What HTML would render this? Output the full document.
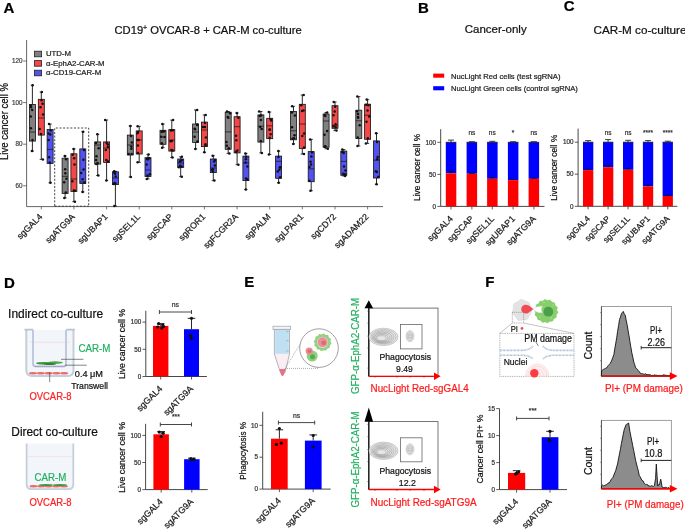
<!DOCTYPE html><html><head><meta charset="utf-8"><style>html,body{margin:0;padding:0;background:#fff;}svg{display:block;will-change:transform;}text{font-family:"Liberation Sans",sans-serif;}</style></head><body>
<svg width="685" height="530" viewBox="0 0 685 530">
<rect width="685" height="530" fill="#fff"/>
<text x="3.4" y="12.6" font-size="15" fill="#000" stroke="#000" stroke-width="0.22" text-anchor="start" font-weight="bold" >A</text>
<text x="418.0" y="12.9" font-size="15" fill="#000" stroke="#000" stroke-width="0.22" text-anchor="start" font-weight="bold" >B</text>
<text x="563.8" y="11.4" font-size="15" fill="#000" stroke="#000" stroke-width="0.22" text-anchor="start" font-weight="bold" >C</text>
<text x="4.1" y="287.5" font-size="15" fill="#000" stroke="#000" stroke-width="0.22" text-anchor="start" font-weight="bold" >D</text>
<text x="244.2" y="287.3" font-size="15" fill="#000" stroke="#000" stroke-width="0.22" text-anchor="start" font-weight="bold" >E</text>
<text x="485.2" y="287.3" font-size="15" fill="#000" stroke="#000" stroke-width="0.22" text-anchor="start" font-weight="bold" >F</text>
<text x="114.5" y="33.6" font-size="11.2" fill="#111" stroke="#111" stroke-width="0.22" text-anchor="start" >CD19<tspan dy="-4" font-size="7">+</tspan><tspan dy="4"> OVCAR-8 + CAR-M co-culture</tspan></text>
<line x1="26.6" y1="40.0" x2="26.6" y2="206.6" stroke="#555" stroke-width="0.9" />
<line x1="26.6" y1="206.6" x2="383.0" y2="206.6" stroke="#555" stroke-width="0.9" />
<line x1="23.1" y1="185.8" x2="26.6" y2="185.8" stroke="#555" stroke-width="0.8" />
<text x="22.5" y="188.0" font-size="6.3" fill="#444" stroke="#444" stroke-width="0.22" text-anchor="end" >60</text>
<line x1="23.1" y1="144.2" x2="26.6" y2="144.2" stroke="#555" stroke-width="0.8" />
<text x="22.5" y="146.4" font-size="6.3" fill="#444" stroke="#444" stroke-width="0.22" text-anchor="end" >80</text>
<line x1="23.1" y1="102.6" x2="26.6" y2="102.6" stroke="#555" stroke-width="0.8" />
<text x="22.5" y="104.8" font-size="6.3" fill="#444" stroke="#444" stroke-width="0.22" text-anchor="end" >100</text>
<line x1="23.1" y1="61.0" x2="26.6" y2="61.0" stroke="#555" stroke-width="0.8" />
<text x="22.5" y="63.2" font-size="6.3" fill="#444" stroke="#444" stroke-width="0.22" text-anchor="end" >120</text>
<text transform="translate(8.2,121.5) rotate(-90)" x="0" y="0" font-size="10" fill="#111" stroke="#111" stroke-width="0.22" text-anchor="middle" textLength="77.0" lengthAdjust="spacingAndGlyphs">Live cancer cell %</text>
<rect x="34.4" y="51.2" width="7.2" height="5.6" fill="#808080" stroke="#222" stroke-width="0.8" />
<text x="46.0" y="56.4" font-size="7.6" fill="#222" stroke="#222" stroke-width="0.22" text-anchor="start" textLength="25.0" lengthAdjust="spacingAndGlyphs" >UTD-M</text>
<rect x="34.4" y="60.6" width="7.2" height="5.6" fill="#f44848" stroke="#222" stroke-width="0.8" />
<text x="46.0" y="65.8" font-size="7.6" fill="#222" stroke="#222" stroke-width="0.22" text-anchor="start" textLength="58.5" lengthAdjust="spacingAndGlyphs" >α-EphA2-CAR-M</text>
<rect x="34.4" y="70.2" width="7.2" height="5.6" fill="#5252f2" stroke="#222" stroke-width="0.8" />
<text x="46.0" y="75.4" font-size="7.6" fill="#222" stroke="#222" stroke-width="0.22" text-anchor="start" textLength="55.2" lengthAdjust="spacingAndGlyphs" >α-CD19-CAR-M</text>
<line x1="41.3" y1="206.6" x2="41.3" y2="209.4" stroke="#555" stroke-width="0.8" />
<line x1="32.4" y1="85.3" x2="32.4" y2="104.5" stroke="#111" stroke-width="0.9" />
<line x1="32.4" y1="141.1" x2="32.4" y2="151.1" stroke="#111" stroke-width="0.9" />
<rect x="29.4" y="104.5" width="6.0" height="36.6" fill="#808080" stroke="#111" stroke-width="0.8" />
<line x1="29.4" y1="132.0" x2="35.4" y2="132.0" stroke="#111" stroke-width="0.7" />
<line x1="30.8" y1="85.3" x2="34.0" y2="85.3" stroke="#111" stroke-width="0.8" />
<line x1="30.8" y1="151.1" x2="34.0" y2="151.1" stroke="#111" stroke-width="0.8" />
<circle cx="32.6" cy="85.3" r="1.25" fill="#111"/>
<circle cx="32.0" cy="151.1" r="1.25" fill="#111"/>
<circle cx="30.9" cy="105.5" r="1.25" fill="#111"/>
<circle cx="32.5" cy="140.1" r="1.25" fill="#111"/>
<circle cx="30.8" cy="116.4" r="1.25" fill="#111"/>
<circle cx="32.2" cy="110.0" r="1.25" fill="#111"/>
<circle cx="30.9" cy="128.3" r="1.25" fill="#111"/>
<circle cx="31.0" cy="107.2" r="1.25" fill="#111"/>
<line x1="41.3" y1="92.1" x2="41.3" y2="99.3" stroke="#111" stroke-width="0.9" />
<line x1="41.3" y1="135.1" x2="41.3" y2="159.4" stroke="#111" stroke-width="0.9" />
<rect x="38.3" y="99.3" width="6.0" height="35.8" fill="#f44848" stroke="#111" stroke-width="0.8" />
<line x1="38.3" y1="118.0" x2="44.3" y2="118.0" stroke="#111" stroke-width="0.7" />
<line x1="39.7" y1="92.1" x2="42.9" y2="92.1" stroke="#111" stroke-width="0.8" />
<line x1="39.7" y1="159.4" x2="42.9" y2="159.4" stroke="#111" stroke-width="0.8" />
<circle cx="41.8" cy="92.1" r="1.25" fill="#111"/>
<circle cx="42.9" cy="159.4" r="1.25" fill="#111"/>
<circle cx="41.6" cy="100.3" r="1.25" fill="#111"/>
<circle cx="40.9" cy="134.1" r="1.25" fill="#111"/>
<circle cx="43.0" cy="114.5" r="1.25" fill="#111"/>
<circle cx="39.7" cy="128.9" r="1.25" fill="#111"/>
<circle cx="42.6" cy="103.7" r="1.25" fill="#111"/>
<circle cx="40.5" cy="107.3" r="1.25" fill="#111"/>
<line x1="50.1" y1="124.1" x2="50.1" y2="129.5" stroke="#111" stroke-width="0.9" />
<line x1="50.1" y1="163.5" x2="50.1" y2="182.8" stroke="#111" stroke-width="0.9" />
<rect x="47.1" y="129.5" width="6.0" height="34.0" fill="#5252f2" stroke="#111" stroke-width="0.8" />
<line x1="47.1" y1="149.4" x2="53.1" y2="149.4" stroke="#111" stroke-width="0.7" />
<line x1="48.5" y1="124.1" x2="51.8" y2="124.1" stroke="#111" stroke-width="0.8" />
<line x1="48.5" y1="182.8" x2="51.8" y2="182.8" stroke="#111" stroke-width="0.8" />
<circle cx="49.0" cy="124.1" r="1.25" fill="#111"/>
<circle cx="50.4" cy="182.8" r="1.25" fill="#111"/>
<circle cx="50.7" cy="130.5" r="1.25" fill="#111"/>
<circle cx="49.7" cy="162.5" r="1.25" fill="#111"/>
<circle cx="50.3" cy="134.4" r="1.25" fill="#111"/>
<circle cx="48.6" cy="133.5" r="1.25" fill="#111"/>
<circle cx="48.6" cy="140.0" r="1.25" fill="#111"/>
<circle cx="49.1" cy="157.2" r="1.25" fill="#111"/>
<text transform="translate(42.9,217.3) rotate(-45)" x="0" y="0" font-size="8.8" fill="#1a1a1a" stroke="#1a1a1a" stroke-width="0.22" text-anchor="end">sgGAL4</text>
<line x1="73.9" y1="206.6" x2="73.9" y2="209.4" stroke="#555" stroke-width="0.8" />
<line x1="65.1" y1="156.0" x2="65.1" y2="158.2" stroke="#111" stroke-width="0.9" />
<line x1="65.1" y1="193.4" x2="65.1" y2="197.9" stroke="#111" stroke-width="0.9" />
<rect x="62.1" y="158.2" width="6.0" height="35.2" fill="#808080" stroke="#111" stroke-width="0.8" />
<line x1="62.1" y1="176.3" x2="68.1" y2="176.3" stroke="#111" stroke-width="0.7" />
<line x1="63.5" y1="156.0" x2="66.7" y2="156.0" stroke="#111" stroke-width="0.8" />
<line x1="63.5" y1="197.9" x2="66.7" y2="197.9" stroke="#111" stroke-width="0.8" />
<circle cx="64.9" cy="156.0" r="1.25" fill="#111"/>
<circle cx="64.4" cy="197.9" r="1.25" fill="#111"/>
<circle cx="66.1" cy="159.2" r="1.25" fill="#111"/>
<circle cx="65.8" cy="192.4" r="1.25" fill="#111"/>
<circle cx="64.2" cy="182.2" r="1.25" fill="#111"/>
<circle cx="65.3" cy="173.3" r="1.25" fill="#111"/>
<circle cx="65.2" cy="169.3" r="1.25" fill="#111"/>
<circle cx="66.4" cy="178.8" r="1.25" fill="#111"/>
<line x1="73.9" y1="148.9" x2="73.9" y2="153.8" stroke="#111" stroke-width="0.9" />
<line x1="73.9" y1="191.4" x2="73.9" y2="201.7" stroke="#111" stroke-width="0.9" />
<rect x="70.9" y="153.8" width="6.0" height="37.6" fill="#f44848" stroke="#111" stroke-width="0.8" />
<line x1="70.9" y1="179.0" x2="76.9" y2="179.0" stroke="#111" stroke-width="0.7" />
<line x1="72.3" y1="148.9" x2="75.5" y2="148.9" stroke="#111" stroke-width="0.8" />
<line x1="72.3" y1="201.7" x2="75.5" y2="201.7" stroke="#111" stroke-width="0.8" />
<circle cx="73.6" cy="148.9" r="1.25" fill="#111"/>
<circle cx="74.9" cy="201.7" r="1.25" fill="#111"/>
<circle cx="72.7" cy="154.8" r="1.25" fill="#111"/>
<circle cx="73.9" cy="190.4" r="1.25" fill="#111"/>
<circle cx="72.3" cy="181.2" r="1.25" fill="#111"/>
<circle cx="74.5" cy="164.6" r="1.25" fill="#111"/>
<circle cx="74.9" cy="190.7" r="1.25" fill="#111"/>
<circle cx="74.2" cy="158.2" r="1.25" fill="#111"/>
<line x1="82.8" y1="131.8" x2="82.8" y2="148.9" stroke="#111" stroke-width="0.9" />
<line x1="82.8" y1="183.6" x2="82.8" y2="191.9" stroke="#111" stroke-width="0.9" />
<rect x="79.8" y="148.9" width="6.0" height="34.7" fill="#5252f2" stroke="#111" stroke-width="0.8" />
<line x1="79.8" y1="182.0" x2="85.8" y2="182.0" stroke="#111" stroke-width="0.7" />
<line x1="81.2" y1="131.8" x2="84.4" y2="131.8" stroke="#111" stroke-width="0.8" />
<line x1="81.2" y1="191.9" x2="84.4" y2="191.9" stroke="#111" stroke-width="0.8" />
<circle cx="83.1" cy="131.8" r="1.25" fill="#111"/>
<circle cx="82.6" cy="191.9" r="1.25" fill="#111"/>
<circle cx="84.0" cy="149.9" r="1.25" fill="#111"/>
<circle cx="84.4" cy="182.6" r="1.25" fill="#111"/>
<circle cx="82.7" cy="179.3" r="1.25" fill="#111"/>
<circle cx="83.4" cy="159.8" r="1.25" fill="#111"/>
<circle cx="81.2" cy="173.0" r="1.25" fill="#111"/>
<circle cx="83.5" cy="169.5" r="1.25" fill="#111"/>
<text transform="translate(75.5,217.3) rotate(-45)" x="0" y="0" font-size="8.8" fill="#1a1a1a" stroke="#1a1a1a" stroke-width="0.22" text-anchor="end">sgATG9A</text>
<line x1="106.6" y1="206.6" x2="106.6" y2="209.4" stroke="#555" stroke-width="0.8" />
<line x1="97.7" y1="134.3" x2="97.7" y2="141.9" stroke="#111" stroke-width="0.9" />
<line x1="97.7" y1="164.1" x2="97.7" y2="175.5" stroke="#111" stroke-width="0.9" />
<rect x="94.7" y="141.9" width="6.0" height="22.2" fill="#808080" stroke="#111" stroke-width="0.8" />
<line x1="94.7" y1="145.0" x2="100.7" y2="145.0" stroke="#111" stroke-width="0.7" />
<line x1="96.1" y1="134.3" x2="99.3" y2="134.3" stroke="#111" stroke-width="0.8" />
<line x1="96.1" y1="175.5" x2="99.3" y2="175.5" stroke="#111" stroke-width="0.8" />
<circle cx="97.3" cy="134.3" r="1.25" fill="#111"/>
<circle cx="98.3" cy="175.5" r="1.25" fill="#111"/>
<circle cx="96.0" cy="142.9" r="1.25" fill="#111"/>
<circle cx="97.6" cy="163.1" r="1.25" fill="#111"/>
<circle cx="96.5" cy="156.3" r="1.25" fill="#111"/>
<circle cx="96.3" cy="163.9" r="1.25" fill="#111"/>
<circle cx="96.1" cy="160.1" r="1.25" fill="#111"/>
<circle cx="98.7" cy="148.2" r="1.25" fill="#111"/>
<line x1="106.6" y1="120.0" x2="106.6" y2="141.9" stroke="#111" stroke-width="0.9" />
<line x1="106.6" y1="162.6" x2="106.6" y2="180.4" stroke="#111" stroke-width="0.9" />
<rect x="103.6" y="141.9" width="6.0" height="20.7" fill="#f44848" stroke="#111" stroke-width="0.8" />
<line x1="103.6" y1="148.0" x2="109.6" y2="148.0" stroke="#111" stroke-width="0.7" />
<line x1="105.0" y1="120.0" x2="108.2" y2="120.0" stroke="#111" stroke-width="0.8" />
<line x1="105.0" y1="180.4" x2="108.2" y2="180.4" stroke="#111" stroke-width="0.8" />
<circle cx="105.1" cy="120.0" r="1.25" fill="#111"/>
<circle cx="106.4" cy="180.4" r="1.25" fill="#111"/>
<circle cx="106.7" cy="142.9" r="1.25" fill="#111"/>
<circle cx="107.9" cy="161.6" r="1.25" fill="#111"/>
<circle cx="107.7" cy="144.6" r="1.25" fill="#111"/>
<circle cx="107.9" cy="147.0" r="1.25" fill="#111"/>
<circle cx="105.8" cy="150.0" r="1.25" fill="#111"/>
<circle cx="106.3" cy="159.9" r="1.25" fill="#111"/>
<line x1="115.4" y1="171.3" x2="115.4" y2="171.8" stroke="#111" stroke-width="0.9" />
<line x1="115.4" y1="184.6" x2="115.4" y2="206.0" stroke="#111" stroke-width="0.9" />
<rect x="112.4" y="171.8" width="6.0" height="12.8" fill="#5252f2" stroke="#111" stroke-width="0.8" />
<line x1="112.4" y1="178.0" x2="118.4" y2="178.0" stroke="#111" stroke-width="0.7" />
<line x1="113.8" y1="171.3" x2="117.0" y2="171.3" stroke="#111" stroke-width="0.8" />
<line x1="113.8" y1="206.0" x2="117.0" y2="206.0" stroke="#111" stroke-width="0.8" />
<circle cx="114.2" cy="171.3" r="1.25" fill="#111"/>
<circle cx="114.4" cy="206.0" r="1.25" fill="#111"/>
<circle cx="114.5" cy="172.8" r="1.25" fill="#111"/>
<circle cx="115.4" cy="183.6" r="1.25" fill="#111"/>
<circle cx="115.7" cy="176.4" r="1.25" fill="#111"/>
<circle cx="114.6" cy="183.1" r="1.25" fill="#111"/>
<circle cx="113.6" cy="184.1" r="1.25" fill="#111"/>
<circle cx="115.1" cy="173.7" r="1.25" fill="#111"/>
<text transform="translate(108.2,217.3) rotate(-45)" x="0" y="0" font-size="8.8" fill="#1a1a1a" stroke="#1a1a1a" stroke-width="0.22" text-anchor="end">sgUBAP1</text>
<line x1="139.2" y1="206.6" x2="139.2" y2="209.4" stroke="#555" stroke-width="0.8" />
<line x1="130.3" y1="126.0" x2="130.3" y2="135.1" stroke="#111" stroke-width="0.9" />
<line x1="130.3" y1="155.0" x2="130.3" y2="177.0" stroke="#111" stroke-width="0.9" />
<rect x="127.3" y="135.1" width="6.0" height="19.9" fill="#808080" stroke="#111" stroke-width="0.8" />
<line x1="127.3" y1="145.0" x2="133.3" y2="145.0" stroke="#111" stroke-width="0.7" />
<line x1="128.7" y1="126.0" x2="131.9" y2="126.0" stroke="#111" stroke-width="0.8" />
<line x1="128.7" y1="177.0" x2="131.9" y2="177.0" stroke="#111" stroke-width="0.8" />
<circle cx="130.4" cy="126.0" r="1.25" fill="#111"/>
<circle cx="130.8" cy="177.0" r="1.25" fill="#111"/>
<circle cx="131.0" cy="136.1" r="1.25" fill="#111"/>
<circle cx="128.7" cy="154.0" r="1.25" fill="#111"/>
<circle cx="131.8" cy="142.4" r="1.25" fill="#111"/>
<circle cx="131.3" cy="146.4" r="1.25" fill="#111"/>
<circle cx="131.7" cy="154.1" r="1.25" fill="#111"/>
<circle cx="131.4" cy="148.8" r="1.25" fill="#111"/>
<line x1="139.2" y1="126.3" x2="139.2" y2="130.9" stroke="#111" stroke-width="0.9" />
<line x1="139.2" y1="154.0" x2="139.2" y2="162.3" stroke="#111" stroke-width="0.9" />
<rect x="136.2" y="130.9" width="6.0" height="23.1" fill="#f44848" stroke="#111" stroke-width="0.8" />
<line x1="136.2" y1="140.0" x2="142.2" y2="140.0" stroke="#111" stroke-width="0.7" />
<line x1="137.6" y1="126.3" x2="140.8" y2="126.3" stroke="#111" stroke-width="0.8" />
<line x1="137.6" y1="162.3" x2="140.8" y2="162.3" stroke="#111" stroke-width="0.8" />
<circle cx="137.6" cy="126.3" r="1.25" fill="#111"/>
<circle cx="137.6" cy="162.3" r="1.25" fill="#111"/>
<circle cx="138.1" cy="131.9" r="1.25" fill="#111"/>
<circle cx="138.0" cy="153.0" r="1.25" fill="#111"/>
<circle cx="138.6" cy="140.0" r="1.25" fill="#111"/>
<circle cx="137.6" cy="140.1" r="1.25" fill="#111"/>
<circle cx="137.4" cy="133.3" r="1.25" fill="#111"/>
<circle cx="137.9" cy="145.6" r="1.25" fill="#111"/>
<line x1="148.0" y1="154.4" x2="148.0" y2="157.7" stroke="#111" stroke-width="0.9" />
<line x1="148.0" y1="176.6" x2="148.0" y2="178.9" stroke="#111" stroke-width="0.9" />
<rect x="145.0" y="157.7" width="6.0" height="18.9" fill="#5252f2" stroke="#111" stroke-width="0.8" />
<line x1="145.0" y1="170.0" x2="151.0" y2="170.0" stroke="#111" stroke-width="0.7" />
<line x1="146.4" y1="154.4" x2="149.6" y2="154.4" stroke="#111" stroke-width="0.8" />
<line x1="146.4" y1="178.9" x2="149.6" y2="178.9" stroke="#111" stroke-width="0.8" />
<circle cx="148.5" cy="154.4" r="1.25" fill="#111"/>
<circle cx="146.8" cy="178.9" r="1.25" fill="#111"/>
<circle cx="147.1" cy="158.7" r="1.25" fill="#111"/>
<circle cx="147.5" cy="175.6" r="1.25" fill="#111"/>
<circle cx="147.6" cy="159.6" r="1.25" fill="#111"/>
<circle cx="146.7" cy="164.6" r="1.25" fill="#111"/>
<circle cx="149.3" cy="158.2" r="1.25" fill="#111"/>
<circle cx="149.8" cy="174.2" r="1.25" fill="#111"/>
<text transform="translate(140.8,217.3) rotate(-45)" x="0" y="0" font-size="8.8" fill="#1a1a1a" stroke="#1a1a1a" stroke-width="0.22" text-anchor="end">sgSEL1L</text>
<line x1="171.8" y1="206.6" x2="171.8" y2="209.4" stroke="#555" stroke-width="0.8" />
<line x1="163.0" y1="124.0" x2="163.0" y2="130.3" stroke="#111" stroke-width="0.9" />
<line x1="163.0" y1="144.3" x2="163.0" y2="147.7" stroke="#111" stroke-width="0.9" />
<rect x="160.0" y="130.3" width="6.0" height="14.0" fill="#808080" stroke="#111" stroke-width="0.8" />
<line x1="160.0" y1="137.0" x2="166.0" y2="137.0" stroke="#111" stroke-width="0.7" />
<line x1="161.4" y1="124.0" x2="164.6" y2="124.0" stroke="#111" stroke-width="0.8" />
<line x1="161.4" y1="147.7" x2="164.6" y2="147.7" stroke="#111" stroke-width="0.8" />
<circle cx="162.4" cy="124.0" r="1.25" fill="#111"/>
<circle cx="162.1" cy="147.7" r="1.25" fill="#111"/>
<circle cx="164.2" cy="131.3" r="1.25" fill="#111"/>
<circle cx="161.8" cy="143.3" r="1.25" fill="#111"/>
<circle cx="161.3" cy="136.8" r="1.25" fill="#111"/>
<circle cx="164.6" cy="137.1" r="1.25" fill="#111"/>
<circle cx="163.1" cy="131.5" r="1.25" fill="#111"/>
<circle cx="161.7" cy="131.7" r="1.25" fill="#111"/>
<line x1="171.8" y1="120.1" x2="171.8" y2="129.6" stroke="#111" stroke-width="0.9" />
<line x1="171.8" y1="151.1" x2="171.8" y2="157.5" stroke="#111" stroke-width="0.9" />
<rect x="168.8" y="129.6" width="6.0" height="21.5" fill="#f44848" stroke="#111" stroke-width="0.8" />
<line x1="168.8" y1="140.0" x2="174.8" y2="140.0" stroke="#111" stroke-width="0.7" />
<line x1="170.2" y1="120.1" x2="173.4" y2="120.1" stroke="#111" stroke-width="0.8" />
<line x1="170.2" y1="157.5" x2="173.4" y2="157.5" stroke="#111" stroke-width="0.8" />
<circle cx="173.1" cy="120.1" r="1.25" fill="#111"/>
<circle cx="172.5" cy="157.5" r="1.25" fill="#111"/>
<circle cx="171.0" cy="130.6" r="1.25" fill="#111"/>
<circle cx="171.3" cy="150.1" r="1.25" fill="#111"/>
<circle cx="170.6" cy="141.3" r="1.25" fill="#111"/>
<circle cx="172.8" cy="130.2" r="1.25" fill="#111"/>
<circle cx="171.9" cy="141.0" r="1.25" fill="#111"/>
<circle cx="172.8" cy="150.6" r="1.25" fill="#111"/>
<line x1="180.7" y1="156.8" x2="180.7" y2="159.0" stroke="#111" stroke-width="0.9" />
<line x1="180.7" y1="167.4" x2="180.7" y2="176.7" stroke="#111" stroke-width="0.9" />
<rect x="177.7" y="159.0" width="6.0" height="8.4" fill="#5252f2" stroke="#111" stroke-width="0.8" />
<line x1="177.7" y1="163.0" x2="183.7" y2="163.0" stroke="#111" stroke-width="0.7" />
<line x1="179.1" y1="156.8" x2="182.3" y2="156.8" stroke="#111" stroke-width="0.8" />
<line x1="179.1" y1="176.7" x2="182.3" y2="176.7" stroke="#111" stroke-width="0.8" />
<circle cx="181.9" cy="156.8" r="1.25" fill="#111"/>
<circle cx="181.8" cy="176.7" r="1.25" fill="#111"/>
<circle cx="181.8" cy="160.0" r="1.25" fill="#111"/>
<circle cx="181.5" cy="166.4" r="1.25" fill="#111"/>
<circle cx="179.7" cy="161.8" r="1.25" fill="#111"/>
<circle cx="180.7" cy="160.9" r="1.25" fill="#111"/>
<circle cx="180.2" cy="165.8" r="1.25" fill="#111"/>
<circle cx="179.0" cy="167.3" r="1.25" fill="#111"/>
<text transform="translate(173.4,217.3) rotate(-45)" x="0" y="0" font-size="8.8" fill="#1a1a1a" stroke="#1a1a1a" stroke-width="0.22" text-anchor="end">sgSCAP</text>
<line x1="204.4" y1="206.6" x2="204.4" y2="209.4" stroke="#555" stroke-width="0.8" />
<line x1="195.6" y1="109.9" x2="195.6" y2="124.0" stroke="#111" stroke-width="0.9" />
<line x1="195.6" y1="142.5" x2="195.6" y2="148.9" stroke="#111" stroke-width="0.9" />
<rect x="192.6" y="124.0" width="6.0" height="18.5" fill="#808080" stroke="#111" stroke-width="0.8" />
<line x1="192.6" y1="132.0" x2="198.6" y2="132.0" stroke="#111" stroke-width="0.7" />
<line x1="194.0" y1="109.9" x2="197.2" y2="109.9" stroke="#111" stroke-width="0.8" />
<line x1="194.0" y1="148.9" x2="197.2" y2="148.9" stroke="#111" stroke-width="0.8" />
<circle cx="197.2" cy="109.9" r="1.25" fill="#111"/>
<circle cx="195.4" cy="148.9" r="1.25" fill="#111"/>
<circle cx="197.2" cy="125.0" r="1.25" fill="#111"/>
<circle cx="197.4" cy="141.5" r="1.25" fill="#111"/>
<circle cx="197.2" cy="124.5" r="1.25" fill="#111"/>
<circle cx="195.1" cy="129.2" r="1.25" fill="#111"/>
<circle cx="194.6" cy="128.8" r="1.25" fill="#111"/>
<circle cx="194.6" cy="136.8" r="1.25" fill="#111"/>
<line x1="204.4" y1="114.9" x2="204.4" y2="122.1" stroke="#111" stroke-width="0.9" />
<line x1="204.4" y1="146.6" x2="204.4" y2="152.3" stroke="#111" stroke-width="0.9" />
<rect x="201.4" y="122.1" width="6.0" height="24.5" fill="#f44848" stroke="#111" stroke-width="0.8" />
<line x1="201.4" y1="130.0" x2="207.4" y2="130.0" stroke="#111" stroke-width="0.7" />
<line x1="202.8" y1="114.9" x2="206.0" y2="114.9" stroke="#111" stroke-width="0.8" />
<line x1="202.8" y1="152.3" x2="206.0" y2="152.3" stroke="#111" stroke-width="0.8" />
<circle cx="205.7" cy="114.9" r="1.25" fill="#111"/>
<circle cx="204.4" cy="152.3" r="1.25" fill="#111"/>
<circle cx="205.0" cy="123.1" r="1.25" fill="#111"/>
<circle cx="205.5" cy="145.6" r="1.25" fill="#111"/>
<circle cx="203.0" cy="126.9" r="1.25" fill="#111"/>
<circle cx="205.0" cy="127.1" r="1.25" fill="#111"/>
<circle cx="205.9" cy="137.4" r="1.25" fill="#111"/>
<circle cx="205.5" cy="144.2" r="1.25" fill="#111"/>
<line x1="213.3" y1="155.7" x2="213.3" y2="159.0" stroke="#111" stroke-width="0.9" />
<line x1="213.3" y1="172.6" x2="213.3" y2="180.6" stroke="#111" stroke-width="0.9" />
<rect x="210.3" y="159.0" width="6.0" height="13.6" fill="#5252f2" stroke="#111" stroke-width="0.8" />
<line x1="210.3" y1="168.0" x2="216.3" y2="168.0" stroke="#111" stroke-width="0.7" />
<line x1="211.7" y1="155.7" x2="214.9" y2="155.7" stroke="#111" stroke-width="0.8" />
<line x1="211.7" y1="180.6" x2="214.9" y2="180.6" stroke="#111" stroke-width="0.8" />
<circle cx="212.7" cy="155.7" r="1.25" fill="#111"/>
<circle cx="214.4" cy="180.6" r="1.25" fill="#111"/>
<circle cx="215.0" cy="160.0" r="1.25" fill="#111"/>
<circle cx="212.9" cy="171.6" r="1.25" fill="#111"/>
<circle cx="212.9" cy="169.2" r="1.25" fill="#111"/>
<circle cx="214.9" cy="165.5" r="1.25" fill="#111"/>
<circle cx="214.1" cy="161.4" r="1.25" fill="#111"/>
<circle cx="212.1" cy="169.7" r="1.25" fill="#111"/>
<text transform="translate(206.0,217.3) rotate(-45)" x="0" y="0" font-size="8.8" fill="#1a1a1a" stroke="#1a1a1a" stroke-width="0.22" text-anchor="end">sgROR1</text>
<line x1="237.1" y1="206.6" x2="237.1" y2="209.4" stroke="#555" stroke-width="0.8" />
<line x1="228.2" y1="111.5" x2="228.2" y2="112.2" stroke="#111" stroke-width="0.9" />
<line x1="228.2" y1="149.3" x2="228.2" y2="153.4" stroke="#111" stroke-width="0.9" />
<rect x="225.2" y="112.2" width="6.0" height="37.1" fill="#808080" stroke="#111" stroke-width="0.8" />
<line x1="225.2" y1="131.9" x2="231.2" y2="131.9" stroke="#111" stroke-width="0.7" />
<line x1="226.6" y1="111.5" x2="229.8" y2="111.5" stroke="#111" stroke-width="0.8" />
<line x1="226.6" y1="153.4" x2="229.8" y2="153.4" stroke="#111" stroke-width="0.8" />
<circle cx="227.0" cy="111.5" r="1.25" fill="#111"/>
<circle cx="229.4" cy="153.4" r="1.25" fill="#111"/>
<circle cx="230.0" cy="113.2" r="1.25" fill="#111"/>
<circle cx="228.8" cy="148.3" r="1.25" fill="#111"/>
<circle cx="227.7" cy="116.9" r="1.25" fill="#111"/>
<circle cx="228.4" cy="117.8" r="1.25" fill="#111"/>
<circle cx="226.9" cy="145.8" r="1.25" fill="#111"/>
<circle cx="226.5" cy="142.1" r="1.25" fill="#111"/>
<line x1="237.1" y1="113.1" x2="237.1" y2="116.7" stroke="#111" stroke-width="0.9" />
<line x1="237.1" y1="152.9" x2="237.1" y2="164.7" stroke="#111" stroke-width="0.9" />
<rect x="234.1" y="116.7" width="6.0" height="36.2" fill="#f44848" stroke="#111" stroke-width="0.8" />
<line x1="234.1" y1="126.7" x2="240.1" y2="126.7" stroke="#111" stroke-width="0.7" />
<line x1="235.5" y1="113.1" x2="238.7" y2="113.1" stroke="#111" stroke-width="0.8" />
<line x1="235.5" y1="164.7" x2="238.7" y2="164.7" stroke="#111" stroke-width="0.8" />
<circle cx="236.8" cy="113.1" r="1.25" fill="#111"/>
<circle cx="238.4" cy="164.7" r="1.25" fill="#111"/>
<circle cx="238.3" cy="117.7" r="1.25" fill="#111"/>
<circle cx="236.0" cy="151.9" r="1.25" fill="#111"/>
<circle cx="236.2" cy="151.8" r="1.25" fill="#111"/>
<circle cx="236.3" cy="140.2" r="1.25" fill="#111"/>
<circle cx="236.1" cy="135.8" r="1.25" fill="#111"/>
<circle cx="237.4" cy="150.5" r="1.25" fill="#111"/>
<line x1="245.9" y1="153.4" x2="245.9" y2="156.1" stroke="#111" stroke-width="0.9" />
<line x1="245.9" y1="180.6" x2="245.9" y2="189.6" stroke="#111" stroke-width="0.9" />
<rect x="242.9" y="156.1" width="6.0" height="24.5" fill="#5252f2" stroke="#111" stroke-width="0.8" />
<line x1="242.9" y1="162.9" x2="248.9" y2="162.9" stroke="#111" stroke-width="0.7" />
<line x1="244.3" y1="153.4" x2="247.5" y2="153.4" stroke="#111" stroke-width="0.8" />
<line x1="244.3" y1="189.6" x2="247.5" y2="189.6" stroke="#111" stroke-width="0.8" />
<circle cx="245.4" cy="153.4" r="1.25" fill="#111"/>
<circle cx="245.8" cy="189.6" r="1.25" fill="#111"/>
<circle cx="246.2" cy="157.1" r="1.25" fill="#111"/>
<circle cx="247.4" cy="179.6" r="1.25" fill="#111"/>
<circle cx="245.6" cy="162.5" r="1.25" fill="#111"/>
<circle cx="247.4" cy="166.4" r="1.25" fill="#111"/>
<circle cx="245.9" cy="159.3" r="1.25" fill="#111"/>
<circle cx="246.0" cy="178.4" r="1.25" fill="#111"/>
<text transform="translate(238.7,217.3) rotate(-45)" x="0" y="0" font-size="8.8" fill="#1a1a1a" stroke="#1a1a1a" stroke-width="0.22" text-anchor="end">sgFCGR2A</text>
<line x1="269.7" y1="206.6" x2="269.7" y2="209.4" stroke="#555" stroke-width="0.8" />
<line x1="260.9" y1="111.5" x2="260.9" y2="114.9" stroke="#111" stroke-width="0.9" />
<line x1="260.9" y1="142.1" x2="260.9" y2="152.9" stroke="#111" stroke-width="0.9" />
<rect x="257.9" y="114.9" width="6.0" height="27.2" fill="#808080" stroke="#111" stroke-width="0.8" />
<line x1="257.9" y1="126.2" x2="263.9" y2="126.2" stroke="#111" stroke-width="0.7" />
<line x1="259.3" y1="111.5" x2="262.5" y2="111.5" stroke="#111" stroke-width="0.8" />
<line x1="259.3" y1="152.9" x2="262.5" y2="152.9" stroke="#111" stroke-width="0.8" />
<circle cx="259.1" cy="111.5" r="1.25" fill="#111"/>
<circle cx="261.9" cy="152.9" r="1.25" fill="#111"/>
<circle cx="259.7" cy="115.9" r="1.25" fill="#111"/>
<circle cx="260.8" cy="141.1" r="1.25" fill="#111"/>
<circle cx="261.7" cy="129.1" r="1.25" fill="#111"/>
<circle cx="261.1" cy="115.4" r="1.25" fill="#111"/>
<circle cx="260.2" cy="126.9" r="1.25" fill="#111"/>
<circle cx="260.9" cy="119.9" r="1.25" fill="#111"/>
<line x1="269.7" y1="112.0" x2="269.7" y2="118.3" stroke="#111" stroke-width="0.9" />
<line x1="269.7" y1="138.7" x2="269.7" y2="154.5" stroke="#111" stroke-width="0.9" />
<rect x="266.7" y="118.3" width="6.0" height="20.4" fill="#f44848" stroke="#111" stroke-width="0.8" />
<line x1="266.7" y1="125.8" x2="272.7" y2="125.8" stroke="#111" stroke-width="0.7" />
<line x1="268.1" y1="112.0" x2="271.3" y2="112.0" stroke="#111" stroke-width="0.8" />
<line x1="268.1" y1="154.5" x2="271.3" y2="154.5" stroke="#111" stroke-width="0.8" />
<circle cx="268.8" cy="112.0" r="1.25" fill="#111"/>
<circle cx="268.9" cy="154.5" r="1.25" fill="#111"/>
<circle cx="270.7" cy="119.3" r="1.25" fill="#111"/>
<circle cx="269.7" cy="137.7" r="1.25" fill="#111"/>
<circle cx="269.9" cy="129.6" r="1.25" fill="#111"/>
<circle cx="270.6" cy="134.3" r="1.25" fill="#111"/>
<circle cx="271.2" cy="120.5" r="1.25" fill="#111"/>
<circle cx="269.5" cy="129.7" r="1.25" fill="#111"/>
<line x1="278.6" y1="151.1" x2="278.6" y2="156.1" stroke="#111" stroke-width="0.9" />
<line x1="278.6" y1="178.3" x2="278.6" y2="182.8" stroke="#111" stroke-width="0.9" />
<rect x="275.6" y="156.1" width="6.0" height="22.2" fill="#5252f2" stroke="#111" stroke-width="0.8" />
<line x1="275.6" y1="161.3" x2="281.6" y2="161.3" stroke="#111" stroke-width="0.7" />
<line x1="277.0" y1="151.1" x2="280.2" y2="151.1" stroke="#111" stroke-width="0.8" />
<line x1="277.0" y1="182.8" x2="280.2" y2="182.8" stroke="#111" stroke-width="0.8" />
<circle cx="278.4" cy="151.1" r="1.25" fill="#111"/>
<circle cx="278.7" cy="182.8" r="1.25" fill="#111"/>
<circle cx="278.5" cy="157.1" r="1.25" fill="#111"/>
<circle cx="280.1" cy="177.3" r="1.25" fill="#111"/>
<circle cx="279.3" cy="169.7" r="1.25" fill="#111"/>
<circle cx="279.9" cy="167.3" r="1.25" fill="#111"/>
<circle cx="280.2" cy="167.5" r="1.25" fill="#111"/>
<circle cx="277.7" cy="171.5" r="1.25" fill="#111"/>
<text transform="translate(271.3,217.3) rotate(-45)" x="0" y="0" font-size="8.8" fill="#1a1a1a" stroke="#1a1a1a" stroke-width="0.22" text-anchor="end">sgPALM</text>
<line x1="302.3" y1="206.6" x2="302.3" y2="209.4" stroke="#555" stroke-width="0.8" />
<line x1="293.5" y1="106.3" x2="293.5" y2="111.5" stroke="#111" stroke-width="0.9" />
<line x1="293.5" y1="139.8" x2="293.5" y2="143.9" stroke="#111" stroke-width="0.9" />
<rect x="290.5" y="111.5" width="6.0" height="28.3" fill="#808080" stroke="#111" stroke-width="0.8" />
<line x1="290.5" y1="130.8" x2="296.5" y2="130.8" stroke="#111" stroke-width="0.7" />
<line x1="291.9" y1="106.3" x2="295.1" y2="106.3" stroke="#111" stroke-width="0.8" />
<line x1="291.9" y1="143.9" x2="295.1" y2="143.9" stroke="#111" stroke-width="0.8" />
<circle cx="292.1" cy="106.3" r="1.25" fill="#111"/>
<circle cx="293.3" cy="143.9" r="1.25" fill="#111"/>
<circle cx="292.0" cy="112.5" r="1.25" fill="#111"/>
<circle cx="292.6" cy="138.8" r="1.25" fill="#111"/>
<circle cx="292.0" cy="127.3" r="1.25" fill="#111"/>
<circle cx="294.1" cy="138.2" r="1.25" fill="#111"/>
<circle cx="294.5" cy="135.3" r="1.25" fill="#111"/>
<circle cx="294.9" cy="115.4" r="1.25" fill="#111"/>
<line x1="302.3" y1="95.0" x2="302.3" y2="104.3" stroke="#111" stroke-width="0.9" />
<line x1="302.3" y1="148.4" x2="302.3" y2="154.1" stroke="#111" stroke-width="0.9" />
<rect x="299.3" y="104.3" width="6.0" height="44.1" fill="#f44848" stroke="#111" stroke-width="0.8" />
<line x1="299.3" y1="124.0" x2="305.3" y2="124.0" stroke="#111" stroke-width="0.7" />
<line x1="300.7" y1="95.0" x2="303.9" y2="95.0" stroke="#111" stroke-width="0.8" />
<line x1="300.7" y1="154.1" x2="303.9" y2="154.1" stroke="#111" stroke-width="0.8" />
<circle cx="303.7" cy="95.0" r="1.25" fill="#111"/>
<circle cx="304.0" cy="154.1" r="1.25" fill="#111"/>
<circle cx="301.3" cy="105.3" r="1.25" fill="#111"/>
<circle cx="304.0" cy="147.4" r="1.25" fill="#111"/>
<circle cx="302.0" cy="111.1" r="1.25" fill="#111"/>
<circle cx="302.3" cy="135.9" r="1.25" fill="#111"/>
<circle cx="304.1" cy="133.4" r="1.25" fill="#111"/>
<circle cx="303.5" cy="110.6" r="1.25" fill="#111"/>
<line x1="311.2" y1="139.4" x2="311.2" y2="151.6" stroke="#111" stroke-width="0.9" />
<line x1="311.2" y1="181.7" x2="311.2" y2="190.7" stroke="#111" stroke-width="0.9" />
<rect x="308.2" y="151.6" width="6.0" height="30.1" fill="#5252f2" stroke="#111" stroke-width="0.8" />
<line x1="308.2" y1="168.8" x2="314.2" y2="168.8" stroke="#111" stroke-width="0.7" />
<line x1="309.6" y1="139.4" x2="312.8" y2="139.4" stroke="#111" stroke-width="0.8" />
<line x1="309.6" y1="190.7" x2="312.8" y2="190.7" stroke="#111" stroke-width="0.8" />
<circle cx="310.1" cy="139.4" r="1.25" fill="#111"/>
<circle cx="310.5" cy="190.7" r="1.25" fill="#111"/>
<circle cx="312.0" cy="152.6" r="1.25" fill="#111"/>
<circle cx="309.5" cy="180.7" r="1.25" fill="#111"/>
<circle cx="311.4" cy="156.5" r="1.25" fill="#111"/>
<circle cx="311.0" cy="164.6" r="1.25" fill="#111"/>
<circle cx="309.5" cy="167.1" r="1.25" fill="#111"/>
<circle cx="310.6" cy="161.8" r="1.25" fill="#111"/>
<text transform="translate(303.9,217.3) rotate(-45)" x="0" y="0" font-size="8.8" fill="#1a1a1a" stroke="#1a1a1a" stroke-width="0.22" text-anchor="end">sgLPAR1</text>
<line x1="335.0" y1="206.6" x2="335.0" y2="209.4" stroke="#555" stroke-width="0.8" />
<line x1="326.1" y1="112.5" x2="326.1" y2="114.0" stroke="#111" stroke-width="0.9" />
<line x1="326.1" y1="147.2" x2="326.1" y2="148.7" stroke="#111" stroke-width="0.9" />
<rect x="323.1" y="114.0" width="6.0" height="33.2" fill="#808080" stroke="#111" stroke-width="0.8" />
<line x1="323.1" y1="121.0" x2="329.1" y2="121.0" stroke="#111" stroke-width="0.7" />
<line x1="324.5" y1="112.5" x2="327.7" y2="112.5" stroke="#111" stroke-width="0.8" />
<line x1="324.5" y1="148.7" x2="327.7" y2="148.7" stroke="#111" stroke-width="0.8" />
<circle cx="327.2" cy="112.5" r="1.25" fill="#111"/>
<circle cx="327.8" cy="148.7" r="1.25" fill="#111"/>
<circle cx="324.7" cy="115.0" r="1.25" fill="#111"/>
<circle cx="325.3" cy="146.2" r="1.25" fill="#111"/>
<circle cx="324.5" cy="134.7" r="1.25" fill="#111"/>
<circle cx="327.1" cy="131.0" r="1.25" fill="#111"/>
<circle cx="325.3" cy="116.1" r="1.25" fill="#111"/>
<circle cx="324.8" cy="146.7" r="1.25" fill="#111"/>
<line x1="335.0" y1="101.9" x2="335.0" y2="105.7" stroke="#111" stroke-width="0.9" />
<line x1="335.0" y1="128.3" x2="335.0" y2="130.6" stroke="#111" stroke-width="0.9" />
<rect x="332.0" y="105.7" width="6.0" height="22.6" fill="#f44848" stroke="#111" stroke-width="0.8" />
<line x1="332.0" y1="125.3" x2="338.0" y2="125.3" stroke="#111" stroke-width="0.7" />
<line x1="333.4" y1="101.9" x2="336.6" y2="101.9" stroke="#111" stroke-width="0.8" />
<line x1="333.4" y1="130.6" x2="336.6" y2="130.6" stroke="#111" stroke-width="0.8" />
<circle cx="333.7" cy="101.9" r="1.25" fill="#111"/>
<circle cx="336.5" cy="130.6" r="1.25" fill="#111"/>
<circle cx="335.2" cy="106.7" r="1.25" fill="#111"/>
<circle cx="335.7" cy="127.3" r="1.25" fill="#111"/>
<circle cx="333.5" cy="115.2" r="1.25" fill="#111"/>
<circle cx="333.4" cy="126.3" r="1.25" fill="#111"/>
<circle cx="335.6" cy="124.2" r="1.25" fill="#111"/>
<circle cx="334.7" cy="111.5" r="1.25" fill="#111"/>
<line x1="343.8" y1="149.6" x2="343.8" y2="151.1" stroke="#111" stroke-width="0.9" />
<line x1="343.8" y1="175.3" x2="343.8" y2="176.0" stroke="#111" stroke-width="0.9" />
<rect x="340.8" y="151.1" width="6.0" height="24.2" fill="#5252f2" stroke="#111" stroke-width="0.8" />
<line x1="340.8" y1="161.4" x2="346.8" y2="161.4" stroke="#111" stroke-width="0.7" />
<line x1="342.2" y1="149.6" x2="345.4" y2="149.6" stroke="#111" stroke-width="0.8" />
<line x1="342.2" y1="176.0" x2="345.4" y2="176.0" stroke="#111" stroke-width="0.8" />
<circle cx="342.3" cy="149.6" r="1.25" fill="#111"/>
<circle cx="345.1" cy="176.0" r="1.25" fill="#111"/>
<circle cx="342.3" cy="152.1" r="1.25" fill="#111"/>
<circle cx="345.1" cy="174.3" r="1.25" fill="#111"/>
<circle cx="343.7" cy="152.9" r="1.25" fill="#111"/>
<circle cx="343.2" cy="173.8" r="1.25" fill="#111"/>
<circle cx="344.0" cy="166.5" r="1.25" fill="#111"/>
<circle cx="345.4" cy="170.5" r="1.25" fill="#111"/>
<text transform="translate(336.6,217.3) rotate(-45)" x="0" y="0" font-size="8.8" fill="#1a1a1a" stroke="#1a1a1a" stroke-width="0.22" text-anchor="end">sgCD72</text>
<line x1="367.6" y1="206.6" x2="367.6" y2="209.4" stroke="#555" stroke-width="0.8" />
<line x1="358.8" y1="96.6" x2="358.8" y2="110.2" stroke="#111" stroke-width="0.9" />
<line x1="358.8" y1="138.6" x2="358.8" y2="146.0" stroke="#111" stroke-width="0.9" />
<rect x="355.8" y="110.2" width="6.0" height="28.4" fill="#808080" stroke="#111" stroke-width="0.8" />
<line x1="355.8" y1="120.8" x2="361.8" y2="120.8" stroke="#111" stroke-width="0.7" />
<line x1="357.1" y1="96.6" x2="360.4" y2="96.6" stroke="#111" stroke-width="0.8" />
<line x1="357.1" y1="146.0" x2="360.4" y2="146.0" stroke="#111" stroke-width="0.8" />
<circle cx="357.3" cy="96.6" r="1.25" fill="#111"/>
<circle cx="357.5" cy="146.0" r="1.25" fill="#111"/>
<circle cx="357.1" cy="111.2" r="1.25" fill="#111"/>
<circle cx="357.7" cy="137.6" r="1.25" fill="#111"/>
<circle cx="358.1" cy="117.8" r="1.25" fill="#111"/>
<circle cx="358.0" cy="113.9" r="1.25" fill="#111"/>
<circle cx="359.7" cy="125.2" r="1.25" fill="#111"/>
<circle cx="358.0" cy="117.0" r="1.25" fill="#111"/>
<line x1="367.6" y1="99.6" x2="367.6" y2="104.2" stroke="#111" stroke-width="0.9" />
<line x1="367.6" y1="139.3" x2="367.6" y2="143.4" stroke="#111" stroke-width="0.9" />
<rect x="364.6" y="104.2" width="6.0" height="35.1" fill="#f44848" stroke="#111" stroke-width="0.8" />
<line x1="364.6" y1="115.2" x2="370.6" y2="115.2" stroke="#111" stroke-width="0.7" />
<line x1="366.0" y1="99.6" x2="369.2" y2="99.6" stroke="#111" stroke-width="0.8" />
<line x1="366.0" y1="143.4" x2="369.2" y2="143.4" stroke="#111" stroke-width="0.8" />
<circle cx="366.7" cy="99.6" r="1.25" fill="#111"/>
<circle cx="365.9" cy="143.4" r="1.25" fill="#111"/>
<circle cx="368.4" cy="105.2" r="1.25" fill="#111"/>
<circle cx="367.8" cy="138.3" r="1.25" fill="#111"/>
<circle cx="366.5" cy="121.8" r="1.25" fill="#111"/>
<circle cx="367.5" cy="110.4" r="1.25" fill="#111"/>
<circle cx="369.2" cy="116.4" r="1.25" fill="#111"/>
<circle cx="366.2" cy="104.8" r="1.25" fill="#111"/>
<line x1="376.5" y1="133.3" x2="376.5" y2="140.9" stroke="#111" stroke-width="0.9" />
<line x1="376.5" y1="178.0" x2="376.5" y2="184.3" stroke="#111" stroke-width="0.9" />
<rect x="373.5" y="140.9" width="6.0" height="37.1" fill="#5252f2" stroke="#111" stroke-width="0.8" />
<line x1="373.5" y1="160.2" x2="379.5" y2="160.2" stroke="#111" stroke-width="0.7" />
<line x1="374.9" y1="133.3" x2="378.1" y2="133.3" stroke="#111" stroke-width="0.8" />
<line x1="374.9" y1="184.3" x2="378.1" y2="184.3" stroke="#111" stroke-width="0.8" />
<circle cx="376.1" cy="133.3" r="1.25" fill="#111"/>
<circle cx="376.5" cy="184.3" r="1.25" fill="#111"/>
<circle cx="377.1" cy="141.9" r="1.25" fill="#111"/>
<circle cx="378.2" cy="177.0" r="1.25" fill="#111"/>
<circle cx="375.9" cy="171.3" r="1.25" fill="#111"/>
<circle cx="377.6" cy="156.9" r="1.25" fill="#111"/>
<circle cx="377.2" cy="159.3" r="1.25" fill="#111"/>
<circle cx="376.9" cy="171.9" r="1.25" fill="#111"/>
<text transform="translate(369.2,217.3) rotate(-45)" x="0" y="0" font-size="8.8" fill="#1a1a1a" stroke="#1a1a1a" stroke-width="0.22" text-anchor="end">sgADAM22</text>
<path d="M54.7 206 L54.7 128 L88.7 128 L88.7 206" fill="none" stroke="#333" stroke-width="0.9" stroke-dasharray="2 1.6"/>
<line x1="54.7" y1="206.2" x2="88.7" y2="206.2" stroke="#333" stroke-width="0.9" stroke-dasharray="2 1.6"/>
<text x="464.7" y="33.3" font-size="11.4" fill="#111" stroke="#111" stroke-width="0.22" text-anchor="start" textLength="62.0" lengthAdjust="spacingAndGlyphs" >Cancer-only</text>
<text x="593.5" y="34.2" font-size="11.4" fill="#111" stroke="#111" stroke-width="0.22" text-anchor="start" textLength="93.0" lengthAdjust="spacingAndGlyphs" >CAR-M co-culture</text>
<rect x="433.2" y="73.6" width="11.0" height="4.1" fill="#ff0000" stroke="none" stroke-width="1" />
<rect x="433.2" y="86.2" width="11.0" height="4.1" fill="#0000ff" stroke="none" stroke-width="1" />
<text x="451.0" y="78.8" font-size="7.7" fill="#222" stroke="#222" stroke-width="0.22" text-anchor="start" textLength="109.5" lengthAdjust="spacingAndGlyphs" >NucLight Red cells (test sgRNA)</text>
<text x="451.0" y="91.4" font-size="7.7" fill="#222" stroke="#222" stroke-width="0.22" text-anchor="start" textLength="126.8" lengthAdjust="spacingAndGlyphs" >NucLight Green cells (control sgRNA)</text>
<line x1="440.7" y1="129.2" x2="440.7" y2="206.4" stroke="#333" stroke-width="0.9" />
<line x1="440.7" y1="206.4" x2="544.5" y2="206.4" stroke="#333" stroke-width="0.9" />
<line x1="437.4" y1="206.4" x2="440.7" y2="206.4" stroke="#333" stroke-width="0.8" />
<text x="436.1" y="208.6" font-size="6.3" fill="#333" stroke="#333" stroke-width="0.22" text-anchor="end" >0</text>
<line x1="437.4" y1="174.4" x2="440.7" y2="174.4" stroke="#333" stroke-width="0.8" />
<text x="436.1" y="176.6" font-size="6.3" fill="#333" stroke="#333" stroke-width="0.22" text-anchor="end" >50</text>
<line x1="437.4" y1="142.3" x2="440.7" y2="142.3" stroke="#333" stroke-width="0.8" />
<text x="436.1" y="144.5" font-size="6.3" fill="#333" stroke="#333" stroke-width="0.22" text-anchor="end" >100</text>
<rect x="445.8" y="142.3" width="10.5" height="31.0" fill="#0000ff" stroke="none" stroke-width="1" />
<rect x="445.8" y="173.3" width="10.5" height="33.1" fill="#ff0000" stroke="none" stroke-width="1" />
<line x1="451.0" y1="142.3" x2="451.0" y2="140.1" stroke="#111" stroke-width="0.8" />
<line x1="448.0" y1="140.1" x2="454.0" y2="140.1" stroke="#111" stroke-width="0.8" />
<line x1="451.0" y1="173.3" x2="451.0" y2="171.5" stroke="#111" stroke-width="0.8" />
<line x1="448.0" y1="171.5" x2="454.0" y2="171.5" stroke="#111" stroke-width="0.8" />
<line x1="445.8" y1="142.3" x2="456.2" y2="142.3" stroke="#111" stroke-width="0.8" />
<line x1="451.0" y1="206.4" x2="451.0" y2="209.4" stroke="#333" stroke-width="0.8" />
<rect x="466.6" y="142.3" width="10.5" height="31.4" fill="#0000ff" stroke="none" stroke-width="1" />
<rect x="466.6" y="173.7" width="10.5" height="32.7" fill="#ff0000" stroke="none" stroke-width="1" />
<line x1="471.9" y1="142.3" x2="471.9" y2="141.7" stroke="#111" stroke-width="0.8" />
<line x1="468.9" y1="141.7" x2="474.9" y2="141.7" stroke="#111" stroke-width="0.8" />
<line x1="471.9" y1="173.7" x2="471.9" y2="173.4" stroke="#111" stroke-width="0.8" />
<line x1="468.9" y1="173.4" x2="474.9" y2="173.4" stroke="#111" stroke-width="0.8" />
<line x1="466.6" y1="142.3" x2="477.1" y2="142.3" stroke="#111" stroke-width="0.8" />
<line x1="471.9" y1="206.4" x2="471.9" y2="209.4" stroke="#333" stroke-width="0.8" />
<text x="471.9" y="134.6" font-size="6.5" fill="#333" stroke="#333" stroke-width="0.22" text-anchor="middle" >ns</text>
<rect x="487.1" y="142.3" width="10.5" height="36.5" fill="#0000ff" stroke="none" stroke-width="1" />
<rect x="487.1" y="178.8" width="10.5" height="27.6" fill="#ff0000" stroke="none" stroke-width="1" />
<line x1="492.3" y1="142.3" x2="492.3" y2="141.3" stroke="#111" stroke-width="0.8" />
<line x1="489.3" y1="141.3" x2="495.3" y2="141.3" stroke="#111" stroke-width="0.8" />
<line x1="492.3" y1="178.8" x2="492.3" y2="177.6" stroke="#111" stroke-width="0.8" />
<line x1="489.3" y1="177.6" x2="495.3" y2="177.6" stroke="#111" stroke-width="0.8" />
<line x1="487.1" y1="142.3" x2="497.6" y2="142.3" stroke="#111" stroke-width="0.8" />
<line x1="492.3" y1="206.4" x2="492.3" y2="209.4" stroke="#333" stroke-width="0.8" />
<text x="492.3" y="134.6" font-size="6.5" fill="#333" stroke="#333" stroke-width="0.22" text-anchor="middle" >ns</text>
<rect x="507.9" y="142.3" width="10.5" height="37.8" fill="#0000ff" stroke="none" stroke-width="1" />
<rect x="507.9" y="180.1" width="10.5" height="26.3" fill="#ff0000" stroke="none" stroke-width="1" />
<line x1="513.1" y1="142.3" x2="513.1" y2="141.7" stroke="#111" stroke-width="0.8" />
<line x1="510.1" y1="141.7" x2="516.1" y2="141.7" stroke="#111" stroke-width="0.8" />
<line x1="513.1" y1="180.1" x2="513.1" y2="179.5" stroke="#111" stroke-width="0.8" />
<line x1="510.1" y1="179.5" x2="516.1" y2="179.5" stroke="#111" stroke-width="0.8" />
<line x1="507.9" y1="142.3" x2="518.4" y2="142.3" stroke="#111" stroke-width="0.8" />
<line x1="513.1" y1="206.4" x2="513.1" y2="209.4" stroke="#333" stroke-width="0.8" />
<text x="513.1" y="134.6" font-size="6.5" fill="#333" stroke="#333" stroke-width="0.22" text-anchor="middle" >*</text>
<rect x="528.6" y="142.3" width="10.5" height="36.5" fill="#0000ff" stroke="none" stroke-width="1" />
<rect x="528.6" y="178.8" width="10.5" height="27.6" fill="#ff0000" stroke="none" stroke-width="1" />
<line x1="533.9" y1="142.3" x2="533.9" y2="141.7" stroke="#111" stroke-width="0.8" />
<line x1="530.9" y1="141.7" x2="536.9" y2="141.7" stroke="#111" stroke-width="0.8" />
<line x1="533.9" y1="178.8" x2="533.9" y2="178.2" stroke="#111" stroke-width="0.8" />
<line x1="530.9" y1="178.2" x2="536.9" y2="178.2" stroke="#111" stroke-width="0.8" />
<line x1="528.6" y1="142.3" x2="539.1" y2="142.3" stroke="#111" stroke-width="0.8" />
<line x1="533.9" y1="206.4" x2="533.9" y2="209.4" stroke="#333" stroke-width="0.8" />
<text x="533.9" y="134.6" font-size="6.5" fill="#333" stroke="#333" stroke-width="0.22" text-anchor="middle" >ns</text>
<text transform="translate(420.3,167.4) rotate(-90)" x="0" y="0" font-size="8.6" fill="#111" stroke="#111" stroke-width="0.22" text-anchor="middle" textLength="67.0" lengthAdjust="spacingAndGlyphs">Live cancer cell %</text>
<line x1="578.1" y1="128.6" x2="578.1" y2="206.3" stroke="#333" stroke-width="0.9" />
<line x1="578.1" y1="206.3" x2="677.4" y2="206.3" stroke="#333" stroke-width="0.9" />
<line x1="574.8" y1="206.3" x2="578.1" y2="206.3" stroke="#333" stroke-width="0.8" />
<text x="573.5" y="208.5" font-size="6.3" fill="#333" stroke="#333" stroke-width="0.22" text-anchor="end" >0</text>
<line x1="574.8" y1="174.2" x2="578.1" y2="174.2" stroke="#333" stroke-width="0.8" />
<text x="573.5" y="176.4" font-size="6.3" fill="#333" stroke="#333" stroke-width="0.22" text-anchor="end" >50</text>
<line x1="574.8" y1="142.2" x2="578.1" y2="142.2" stroke="#333" stroke-width="0.8" />
<text x="573.5" y="144.4" font-size="6.3" fill="#333" stroke="#333" stroke-width="0.22" text-anchor="end" >100</text>
<rect x="583.0" y="142.2" width="10.3" height="27.9" fill="#0000ff" stroke="none" stroke-width="1" />
<rect x="583.0" y="170.1" width="10.3" height="36.2" fill="#ff0000" stroke="none" stroke-width="1" />
<line x1="588.1" y1="142.2" x2="588.1" y2="140.6" stroke="#111" stroke-width="0.8" />
<line x1="585.1" y1="140.6" x2="591.1" y2="140.6" stroke="#111" stroke-width="0.8" />
<line x1="588.1" y1="170.1" x2="588.1" y2="169.1" stroke="#111" stroke-width="0.8" />
<line x1="585.1" y1="169.1" x2="591.1" y2="169.1" stroke="#111" stroke-width="0.8" />
<line x1="583.0" y1="142.2" x2="593.2" y2="142.2" stroke="#111" stroke-width="0.8" />
<line x1="588.1" y1="206.3" x2="588.1" y2="209.3" stroke="#333" stroke-width="0.8" />
<rect x="603.0" y="142.2" width="10.3" height="25.0" fill="#0000ff" stroke="none" stroke-width="1" />
<rect x="603.0" y="167.2" width="10.3" height="39.1" fill="#ff0000" stroke="none" stroke-width="1" />
<line x1="608.1" y1="142.2" x2="608.1" y2="139.6" stroke="#111" stroke-width="0.8" />
<line x1="605.1" y1="139.6" x2="611.1" y2="139.6" stroke="#111" stroke-width="0.8" />
<line x1="608.1" y1="167.2" x2="608.1" y2="165.3" stroke="#111" stroke-width="0.8" />
<line x1="605.1" y1="165.3" x2="611.1" y2="165.3" stroke="#111" stroke-width="0.8" />
<line x1="603.0" y1="142.2" x2="613.2" y2="142.2" stroke="#111" stroke-width="0.8" />
<line x1="608.1" y1="206.3" x2="608.1" y2="209.3" stroke="#333" stroke-width="0.8" />
<text x="608.1" y="134.6" font-size="6.5" fill="#333" stroke="#333" stroke-width="0.22" text-anchor="middle" >ns</text>
<rect x="623.0" y="142.2" width="10.3" height="27.6" fill="#0000ff" stroke="none" stroke-width="1" />
<rect x="623.0" y="169.8" width="10.3" height="36.5" fill="#ff0000" stroke="none" stroke-width="1" />
<line x1="628.1" y1="142.2" x2="628.1" y2="140.3" stroke="#111" stroke-width="0.8" />
<line x1="625.1" y1="140.3" x2="631.1" y2="140.3" stroke="#111" stroke-width="0.8" />
<line x1="628.1" y1="169.8" x2="628.1" y2="168.5" stroke="#111" stroke-width="0.8" />
<line x1="625.1" y1="168.5" x2="631.1" y2="168.5" stroke="#111" stroke-width="0.8" />
<line x1="623.0" y1="142.2" x2="633.2" y2="142.2" stroke="#111" stroke-width="0.8" />
<line x1="628.1" y1="206.3" x2="628.1" y2="209.3" stroke="#333" stroke-width="0.8" />
<text x="628.1" y="134.6" font-size="6.5" fill="#333" stroke="#333" stroke-width="0.22" text-anchor="middle" >ns</text>
<rect x="642.9" y="142.2" width="10.3" height="44.2" fill="#0000ff" stroke="none" stroke-width="1" />
<rect x="642.9" y="186.4" width="10.3" height="19.9" fill="#ff0000" stroke="none" stroke-width="1" />
<line x1="648.0" y1="142.2" x2="648.0" y2="140.6" stroke="#111" stroke-width="0.8" />
<line x1="645.0" y1="140.6" x2="651.0" y2="140.6" stroke="#111" stroke-width="0.8" />
<line x1="648.0" y1="186.4" x2="648.0" y2="185.1" stroke="#111" stroke-width="0.8" />
<line x1="645.0" y1="185.1" x2="651.0" y2="185.1" stroke="#111" stroke-width="0.8" />
<line x1="642.9" y1="142.2" x2="653.1" y2="142.2" stroke="#111" stroke-width="0.8" />
<line x1="648.0" y1="206.3" x2="648.0" y2="209.3" stroke="#333" stroke-width="0.8" />
<text x="648.0" y="134.6" font-size="6.5" fill="#333" stroke="#333" stroke-width="0.22" text-anchor="middle" >****</text>
<rect x="662.6" y="142.2" width="10.3" height="53.8" fill="#0000ff" stroke="none" stroke-width="1" />
<rect x="662.6" y="196.0" width="10.3" height="10.3" fill="#ff0000" stroke="none" stroke-width="1" />
<line x1="667.8" y1="142.2" x2="667.8" y2="141.2" stroke="#111" stroke-width="0.8" />
<line x1="664.8" y1="141.2" x2="670.8" y2="141.2" stroke="#111" stroke-width="0.8" />
<line x1="667.8" y1="196.0" x2="667.8" y2="195.1" stroke="#111" stroke-width="0.8" />
<line x1="664.8" y1="195.1" x2="670.8" y2="195.1" stroke="#111" stroke-width="0.8" />
<line x1="662.6" y1="142.2" x2="672.9" y2="142.2" stroke="#111" stroke-width="0.8" />
<line x1="667.8" y1="206.3" x2="667.8" y2="209.3" stroke="#333" stroke-width="0.8" />
<text x="667.8" y="134.6" font-size="6.5" fill="#333" stroke="#333" stroke-width="0.22" text-anchor="middle" >****</text>
<text transform="translate(557.3,167.8) rotate(-90)" x="0" y="0" font-size="8.6" fill="#111" stroke="#111" stroke-width="0.22" text-anchor="middle" textLength="66.0" lengthAdjust="spacingAndGlyphs">Live cancer cell %</text>
<text transform="translate(453.5,219.3) rotate(-45)" x="0" y="0" font-size="8.8" fill="#1a1a1a" stroke="#1a1a1a" stroke-width="0.22" text-anchor="end">sgGAL4</text>
<text transform="translate(590.6,219.3) rotate(-45)" x="0" y="0" font-size="8.4" fill="#1a1a1a" stroke="#1a1a1a" stroke-width="0.22" text-anchor="end">sgGAL4</text>
<text transform="translate(474.4,219.3) rotate(-45)" x="0" y="0" font-size="8.8" fill="#1a1a1a" stroke="#1a1a1a" stroke-width="0.22" text-anchor="end">sgSCAP</text>
<text transform="translate(610.6,219.3) rotate(-45)" x="0" y="0" font-size="8.4" fill="#1a1a1a" stroke="#1a1a1a" stroke-width="0.22" text-anchor="end">sgSCAP</text>
<text transform="translate(494.8,219.3) rotate(-45)" x="0" y="0" font-size="8.8" fill="#1a1a1a" stroke="#1a1a1a" stroke-width="0.22" text-anchor="end">sgSEL1L</text>
<text transform="translate(630.6,219.3) rotate(-45)" x="0" y="0" font-size="8.4" fill="#1a1a1a" stroke="#1a1a1a" stroke-width="0.22" text-anchor="end">sgSEL1L</text>
<text transform="translate(515.6,219.3) rotate(-45)" x="0" y="0" font-size="8.8" fill="#1a1a1a" stroke="#1a1a1a" stroke-width="0.22" text-anchor="end">sgUBAP1</text>
<text transform="translate(650.5,219.3) rotate(-45)" x="0" y="0" font-size="8.4" fill="#1a1a1a" stroke="#1a1a1a" stroke-width="0.22" text-anchor="end">sgUBAP1</text>
<text transform="translate(536.4,219.3) rotate(-45)" x="0" y="0" font-size="8.8" fill="#1a1a1a" stroke="#1a1a1a" stroke-width="0.22" text-anchor="end">sgATG9A</text>
<text transform="translate(670.3,219.3) rotate(-45)" x="0" y="0" font-size="8.4" fill="#1a1a1a" stroke="#1a1a1a" stroke-width="0.22" text-anchor="end">sgATG9A</text>
<line x1="145.8" y1="310.8" x2="145.8" y2="376.5" stroke="#333" stroke-width="0.9" />
<line x1="145.8" y1="376.5" x2="206.9" y2="376.5" stroke="#333" stroke-width="0.9" />
<line x1="142.5" y1="376.5" x2="145.8" y2="376.5" stroke="#333" stroke-width="0.8" />
<text x="141.2" y="378.7" font-size="6.3" fill="#333" stroke="#333" stroke-width="0.22" text-anchor="end" >0</text>
<line x1="142.5" y1="349.3" x2="145.8" y2="349.3" stroke="#333" stroke-width="0.8" />
<text x="141.2" y="351.5" font-size="6.3" fill="#333" stroke="#333" stroke-width="0.22" text-anchor="end" >50</text>
<line x1="142.5" y1="322.1" x2="145.8" y2="322.1" stroke="#333" stroke-width="0.8" />
<text x="141.2" y="324.3" font-size="6.3" fill="#333" stroke="#333" stroke-width="0.22" text-anchor="end" >100</text>
<rect x="153.0" y="325.9" width="15.4" height="50.6" fill="#ff0000" stroke="none" stroke-width="1" />
<line x1="160.7" y1="325.9" x2="160.7" y2="323.7" stroke="#111" stroke-width="0.9" />
<line x1="156.9" y1="323.7" x2="164.5" y2="323.7" stroke="#111" stroke-width="0.9" />
<circle cx="158.7" cy="323.7" r="1.6" fill="#111"/>
<circle cx="162.7" cy="324.8" r="1.6" fill="#111"/>
<circle cx="157.7" cy="327.0" r="1.6" fill="#111"/>
<circle cx="161.7" cy="328.1" r="1.6" fill="#111"/>
<circle cx="163.7" cy="326.5" r="1.6" fill="#111"/>
<line x1="160.7" y1="376.5" x2="160.7" y2="379.5" stroke="#333" stroke-width="0.8" />
<rect x="184.0" y="329.2" width="15.0" height="47.3" fill="#0000ff" stroke="none" stroke-width="1" />
<line x1="191.5" y1="329.2" x2="191.5" y2="318.3" stroke="#111" stroke-width="0.9" />
<line x1="187.7" y1="318.3" x2="195.3" y2="318.3" stroke="#111" stroke-width="0.9" />
<circle cx="191.5" cy="318.3" r="1.6" fill="#111"/>
<circle cx="190.5" cy="335.7" r="1.6" fill="#111"/>
<circle cx="191.5" cy="338.4" r="1.6" fill="#111"/>
<line x1="191.5" y1="376.5" x2="191.5" y2="379.5" stroke="#333" stroke-width="0.8" />
<line x1="159.4" y1="312.0" x2="191.5" y2="312.0" stroke="#333" stroke-width="0.9" />
<line x1="159.4" y1="310.0" x2="159.4" y2="314.0" stroke="#333" stroke-width="0.9" />
<line x1="191.5" y1="310.0" x2="191.5" y2="314.0" stroke="#333" stroke-width="0.9" />
<text x="175.4" y="307.2" font-size="6.8" fill="#333" stroke="#333" stroke-width="0.22" text-anchor="middle" >ns</text>
<text transform="translate(124.7,344.0) rotate(-90)" x="0" y="0" font-size="8.6" fill="#111" stroke="#111" stroke-width="0.22" text-anchor="middle" textLength="70.0" lengthAdjust="spacingAndGlyphs">Live cancer cell %</text>
<text transform="translate(162.9,389.3) rotate(-45)" x="0" y="0" font-size="8.9" fill="#1a1a1a" stroke="#1a1a1a" stroke-width="0.22" text-anchor="end">sgGAL4</text>
<text transform="translate(193.7,389.3) rotate(-45)" x="0" y="0" font-size="8.9" fill="#1a1a1a" stroke="#1a1a1a" stroke-width="0.22" text-anchor="end">sgATG9A</text>
<line x1="145.6" y1="423.8" x2="145.6" y2="489.6" stroke="#333" stroke-width="0.9" />
<line x1="145.6" y1="489.6" x2="207.7" y2="489.6" stroke="#333" stroke-width="0.9" />
<line x1="142.3" y1="489.6" x2="145.6" y2="489.6" stroke="#333" stroke-width="0.8" />
<text x="141.0" y="491.8" font-size="6.3" fill="#333" stroke="#333" stroke-width="0.22" text-anchor="end" >0</text>
<line x1="142.3" y1="462.5" x2="145.6" y2="462.5" stroke="#333" stroke-width="0.8" />
<text x="141.0" y="464.7" font-size="6.3" fill="#333" stroke="#333" stroke-width="0.22" text-anchor="end" >50</text>
<line x1="142.3" y1="435.4" x2="145.6" y2="435.4" stroke="#333" stroke-width="0.8" />
<text x="141.0" y="437.6" font-size="6.3" fill="#333" stroke="#333" stroke-width="0.22" text-anchor="end" >100</text>
<rect x="153.4" y="434.3" width="15.5" height="55.3" fill="#ff0000" stroke="none" stroke-width="1" />
<line x1="161.2" y1="434.3" x2="161.2" y2="431.6" stroke="#111" stroke-width="0.9" />
<line x1="157.3" y1="431.6" x2="165.0" y2="431.6" stroke="#111" stroke-width="0.9" />
<circle cx="159.2" cy="432.1" r="1.6" fill="#111"/>
<circle cx="163.2" cy="433.2" r="1.6" fill="#111"/>
<circle cx="161.2" cy="436.5" r="1.6" fill="#111"/>
<line x1="161.2" y1="489.6" x2="161.2" y2="492.6" stroke="#333" stroke-width="0.8" />
<rect x="184.1" y="459.2" width="15.5" height="30.4" fill="#0000ff" stroke="none" stroke-width="1" />
<line x1="191.8" y1="459.2" x2="191.8" y2="458.2" stroke="#111" stroke-width="0.9" />
<line x1="188.0" y1="458.2" x2="195.7" y2="458.2" stroke="#111" stroke-width="0.9" />
<circle cx="190.8" cy="458.7" r="1.6" fill="#111"/>
<circle cx="193.8" cy="459.2" r="1.6" fill="#111"/>
<circle cx="191.8" cy="459.8" r="1.6" fill="#111"/>
<line x1="191.8" y1="489.6" x2="191.8" y2="492.6" stroke="#333" stroke-width="0.8" />
<line x1="160.3" y1="424.5" x2="191.5" y2="424.5" stroke="#333" stroke-width="0.9" />
<line x1="160.3" y1="422.5" x2="160.3" y2="426.5" stroke="#333" stroke-width="0.9" />
<line x1="191.5" y1="422.5" x2="191.5" y2="426.5" stroke="#333" stroke-width="0.9" />
<text x="175.9" y="419.0" font-size="6.8" fill="#333" stroke="#333" stroke-width="0.22" text-anchor="middle" >***</text>
<text transform="translate(125.2,457.4) rotate(-90)" x="0" y="0" font-size="8.6" fill="#111" stroke="#111" stroke-width="0.22" text-anchor="middle" textLength="70.8" lengthAdjust="spacingAndGlyphs">Live cancer cell %</text>
<text transform="translate(163.3,502.3) rotate(-45)" x="0" y="0" font-size="8.9" fill="#1a1a1a" stroke="#1a1a1a" stroke-width="0.22" text-anchor="end">sgGAL4</text>
<text transform="translate(194.0,502.3) rotate(-45)" x="0" y="0" font-size="8.9" fill="#1a1a1a" stroke="#1a1a1a" stroke-width="0.22" text-anchor="end">sgATG9A</text>
<line x1="262.7" y1="411.8" x2="262.7" y2="489.1" stroke="#333" stroke-width="0.9" />
<line x1="262.7" y1="489.1" x2="330.7" y2="489.1" stroke="#333" stroke-width="0.9" />
<line x1="259.4" y1="489.1" x2="262.7" y2="489.1" stroke="#333" stroke-width="0.8" />
<text x="258.1" y="491.3" font-size="6.3" fill="#333" stroke="#333" stroke-width="0.22" text-anchor="end" >0</text>
<line x1="259.4" y1="457.2" x2="262.7" y2="457.2" stroke="#333" stroke-width="0.8" />
<text x="258.1" y="459.4" font-size="6.3" fill="#333" stroke="#333" stroke-width="0.22" text-anchor="end" >5</text>
<line x1="259.4" y1="425.3" x2="262.7" y2="425.3" stroke="#333" stroke-width="0.8" />
<text x="258.1" y="427.5" font-size="6.3" fill="#333" stroke="#333" stroke-width="0.22" text-anchor="end" >10</text>
<rect x="271.0" y="438.7" width="16.7" height="50.4" fill="#ff0000" stroke="none" stroke-width="1" />
<line x1="279.4" y1="438.7" x2="279.4" y2="429.8" stroke="#111" stroke-width="0.9" />
<line x1="275.6" y1="429.8" x2="283.2" y2="429.8" stroke="#111" stroke-width="0.9" />
<circle cx="279.4" cy="428.5" r="1.6" fill="#111"/>
<circle cx="276.4" cy="444.4" r="1.6" fill="#111"/>
<circle cx="281.4" cy="443.2" r="1.6" fill="#111"/>
<line x1="279.4" y1="489.1" x2="279.4" y2="492.1" stroke="#333" stroke-width="0.8" />
<rect x="304.9" y="440.6" width="16.7" height="48.5" fill="#0000ff" stroke="none" stroke-width="1" />
<line x1="313.2" y1="440.6" x2="313.2" y2="434.9" stroke="#111" stroke-width="0.9" />
<line x1="309.4" y1="434.9" x2="317.1" y2="434.9" stroke="#111" stroke-width="0.9" />
<circle cx="313.2" cy="435.5" r="1.6" fill="#111"/>
<circle cx="313.2" cy="447.0" r="1.6" fill="#111"/>
<line x1="313.2" y1="489.1" x2="313.2" y2="492.1" stroke="#333" stroke-width="0.8" />
<line x1="278.4" y1="422.6" x2="314.7" y2="422.6" stroke="#333" stroke-width="0.9" />
<line x1="278.4" y1="420.6" x2="278.4" y2="424.6" stroke="#333" stroke-width="0.9" />
<line x1="314.7" y1="420.6" x2="314.7" y2="424.6" stroke="#333" stroke-width="0.9" />
<text x="296.5" y="417.5" font-size="6.8" fill="#333" stroke="#333" stroke-width="0.22" text-anchor="middle" >ns</text>
<text transform="translate(245.6,450.9) rotate(-90)" x="0" y="0" font-size="8.6" fill="#111" stroke="#111" stroke-width="0.22" text-anchor="middle" textLength="57.8" lengthAdjust="spacingAndGlyphs">Phagocytosis %</text>
<text transform="translate(281.6,501.3) rotate(-45)" x="0" y="0" font-size="8.9" fill="#1a1a1a" stroke="#1a1a1a" stroke-width="0.22" text-anchor="end">sgGAL4</text>
<text transform="translate(315.4,501.3) rotate(-45)" x="0" y="0" font-size="8.9" fill="#1a1a1a" stroke="#1a1a1a" stroke-width="0.22" text-anchor="end">sgATG9A</text>
<line x1="499.5" y1="408.6" x2="499.5" y2="489.6" stroke="#333" stroke-width="0.9" />
<line x1="499.5" y1="489.6" x2="567.0" y2="489.6" stroke="#333" stroke-width="0.9" />
<line x1="496.2" y1="489.6" x2="499.5" y2="489.6" stroke="#333" stroke-width="0.8" />
<text x="494.9" y="491.8" font-size="6.3" fill="#333" stroke="#333" stroke-width="0.22" text-anchor="end" >0</text>
<line x1="496.2" y1="462.6" x2="499.5" y2="462.6" stroke="#333" stroke-width="0.8" />
<text x="494.9" y="464.8" font-size="6.3" fill="#333" stroke="#333" stroke-width="0.22" text-anchor="end" >5</text>
<line x1="496.2" y1="435.6" x2="499.5" y2="435.6" stroke="#333" stroke-width="0.8" />
<text x="494.9" y="437.8" font-size="6.3" fill="#333" stroke="#333" stroke-width="0.22" text-anchor="end" >10</text>
<line x1="496.2" y1="408.6" x2="499.5" y2="408.6" stroke="#333" stroke-width="0.8" />
<text x="494.9" y="410.8" font-size="6.3" fill="#333" stroke="#333" stroke-width="0.22" text-anchor="end" >15</text>
<rect x="508.0" y="472.9" width="17.2" height="16.7" fill="#ff0000" stroke="none" stroke-width="1" />
<line x1="516.6" y1="472.9" x2="516.6" y2="470.7" stroke="#111" stroke-width="0.9" />
<line x1="512.8" y1="470.7" x2="520.4" y2="470.7" stroke="#111" stroke-width="0.9" />
<circle cx="515.6" cy="473.9" r="1.6" fill="#111"/>
<circle cx="518.6" cy="471.8" r="1.6" fill="#111"/>
<circle cx="516.6" cy="473.4" r="1.6" fill="#111"/>
<line x1="516.6" y1="489.6" x2="516.6" y2="492.6" stroke="#333" stroke-width="0.8" />
<rect x="541.7" y="437.2" width="16.7" height="52.4" fill="#0000ff" stroke="none" stroke-width="1" />
<line x1="550.0" y1="437.2" x2="550.0" y2="431.3" stroke="#111" stroke-width="0.9" />
<line x1="546.2" y1="431.3" x2="553.8" y2="431.3" stroke="#111" stroke-width="0.9" />
<circle cx="550.0" cy="431.3" r="1.6" fill="#111"/>
<circle cx="549.0" cy="439.4" r="1.6" fill="#111"/>
<circle cx="550.0" cy="441.0" r="1.6" fill="#111"/>
<line x1="550.0" y1="489.6" x2="550.0" y2="492.6" stroke="#333" stroke-width="0.8" />
<line x1="516.6" y1="418.4" x2="549.0" y2="418.4" stroke="#333" stroke-width="0.9" />
<line x1="516.6" y1="416.4" x2="516.6" y2="420.4" stroke="#333" stroke-width="0.9" />
<line x1="549.0" y1="416.4" x2="549.0" y2="420.4" stroke="#333" stroke-width="0.9" />
<text x="532.8" y="413.0" font-size="6.8" fill="#333" stroke="#333" stroke-width="0.22" text-anchor="middle" >***</text>
<text transform="translate(483.3,449.0) rotate(-90)" x="0" y="0" font-size="8.6" fill="#111" stroke="#111" stroke-width="0.22" text-anchor="middle" textLength="68.8" lengthAdjust="spacingAndGlyphs">Cancer cell PI+ %</text>
<text transform="translate(518.8,502.3) rotate(-45)" x="0" y="0" font-size="8.9" fill="#1a1a1a" stroke="#1a1a1a" stroke-width="0.22" text-anchor="end">sgGAL4</text>
<text transform="translate(552.2,502.3) rotate(-45)" x="0" y="0" font-size="8.9" fill="#1a1a1a" stroke="#1a1a1a" stroke-width="0.22" text-anchor="end">sgATG9A</text>
<text x="8.1" y="317.9" font-size="12.3" fill="#111" stroke="#111" stroke-width="0.22" text-anchor="start" textLength="95.0" lengthAdjust="spacingAndGlyphs" >Indirect co-culture</text>
<text x="11.3" y="435.9" font-size="12.3" fill="#111" stroke="#111" stroke-width="0.22" text-anchor="start" textLength="86.5" lengthAdjust="spacingAndGlyphs" >Direct co-culture</text>
<path d="M26.3 330 L26.3 370 Q26.3 376 32 376 L68 376 Q73.5 376 73.5 370 L73.5 330" fill="#f2f5f9" stroke="#c3cfd9" stroke-width="2"/>
<line x1="30" y1="342.2" x2="70" y2="342.2" stroke="#f3d0d0" stroke-width="0.6"/>
<path d="M24.5 329.6 L33.2 329.6 M66.3 329.6 L74.8 329.6" stroke="#b9c1d6" stroke-width="1.8"/>
<path d="M33 330 L33 364 Q33 366.4 35.5 366.4 L63.8 366.4 Q66 366.4 66 364 L66 330" fill="none" stroke="#b6bdd6" stroke-width="1.6"/>
<line x1="35" y1="366.6" x2="64.5" y2="366.6" stroke="#8a90b0" stroke-width="0.9" stroke-dasharray="1 0.8"/>
<ellipse cx="44" cy="363.3" rx="8" ry="1.4" fill="#3e9a3e"/><ellipse cx="55" cy="362.6" rx="8" ry="1.3" fill="#4aa84a"/><ellipse cx="50" cy="364" rx="6" ry="1" fill="#2f7f30"/>
<ellipse cx="33.0" cy="373.2" rx="4" ry="1.2" fill="#ee6a6a"/>
<ellipse cx="40.8" cy="373.2" rx="4" ry="1.2" fill="#ee6a6a"/>
<ellipse cx="48.6" cy="373.2" rx="4" ry="1.2" fill="#ee6a6a"/>
<ellipse cx="56.4" cy="373.2" rx="4" ry="1.2" fill="#ee6a6a"/>
<ellipse cx="64.2" cy="373.2" rx="4" ry="1.2" fill="#ee6a6a"/>
<line x1="61.0" y1="359.3" x2="83.4" y2="359.3" stroke="#333" stroke-width="0.6" />
<line x1="64.9" y1="365.2" x2="86.7" y2="365.2" stroke="#333" stroke-width="0.6" />
<line x1="49.7" y1="372.2" x2="49.7" y2="382.1" stroke="#333" stroke-width="0.6" />
<text x="78.5" y="351.7" font-size="11" fill="#22b060" stroke="#22b060" stroke-width="0.22" text-anchor="start" textLength="32.0" lengthAdjust="spacingAndGlyphs" >CAR-M</text>
<text x="74.8" y="376.7" font-size="9.3" fill="#111" stroke="#111" stroke-width="0.22" text-anchor="start" textLength="28.2" lengthAdjust="spacingAndGlyphs" >0.4 μM</text>
<text x="71.2" y="389.0" font-size="9.3" fill="#111" stroke="#111" stroke-width="0.22" text-anchor="start" textLength="36.8" lengthAdjust="spacingAndGlyphs" >Transwell</text>
<text x="29.4" y="399.9" font-size="11" fill="#ff2020" stroke="#ff2020" stroke-width="0.22" text-anchor="start" textLength="42.0" lengthAdjust="spacingAndGlyphs" >OVCAR-8</text>
<path d="M26.6 443.6 L26.6 484 Q26.6 489.2 31.5 489.2 L68.5 489.2 Q73.3 489.2 73.3 484 L73.3 443.6" fill="#f2f5f9" stroke="#c3cfd9" stroke-width="1.8"/>
<line x1="28" y1="456.6" x2="72" y2="456.6" stroke="#f3d8d8" stroke-width="0.6"/>
<ellipse cx="33.5" cy="486.2" rx="4" ry="1.2" fill="#ee6a6a"/>
<ellipse cx="41.1" cy="486.2" rx="4" ry="1.2" fill="#ee6a6a"/>
<ellipse cx="48.7" cy="486.2" rx="4" ry="1.2" fill="#ee6a6a"/>
<ellipse cx="56.3" cy="486.2" rx="4" ry="1.2" fill="#ee6a6a"/>
<ellipse cx="63.9" cy="486.2" rx="4" ry="1.2" fill="#ee6a6a"/>
<ellipse cx="46" cy="485" rx="7" ry="1" fill="#3e9a3e"/><ellipse cx="60" cy="485" rx="7" ry="1" fill="#3e9a3e"/>
<text x="34.5" y="480.8" font-size="11" fill="#22b060" stroke="#22b060" stroke-width="0.22" text-anchor="start" textLength="31.7" lengthAdjust="spacingAndGlyphs" >CAR-M</text>
<text x="29.4" y="505.7" font-size="11" fill="#ff2020" stroke="#ff2020" stroke-width="0.22" text-anchor="start" textLength="42.1" lengthAdjust="spacingAndGlyphs" >OVCAR-8</text>
<rect x="273" y="326.2" width="17.7" height="3.2" fill="#f4f4f4" stroke="#9aa3ad" stroke-width="0.7"/>
<path d="M274.4 329.4 L289.5 329.4 L289.5 354 L285.2 372 Q282.7 377 280.2 372 L274.4 354 Z" fill="#fbeef3" stroke="#9aa3ad" stroke-width="0.8"/>
<path d="M275.2 330 L288.8 330 L288.8 353.8 L275.2 353.8 Z" fill="#bfe0f2"/>
<path d="M279.3 369 L285.6 369 L283.8 375 Q282.5 377 281.2 375 Z" fill="#e86f86"/>
<line x1="286.0" y1="331.5" x2="288.8" y2="331.5" stroke="#7f98a8" stroke-width="0.5" />
<line x1="286.0" y1="340.7" x2="288.8" y2="340.7" stroke="#7f98a8" stroke-width="0.5" />
<line x1="286.0" y1="351.0" x2="288.8" y2="351.0" stroke="#7f98a8" stroke-width="0.5" />
<circle cx="319" cy="348.1" r="19.3" fill="#fff" stroke="#777" stroke-width="0.7"/>
<line x1="285.0" y1="368.6" x2="300.0" y2="344.5" stroke="#555" stroke-width="0.5" stroke-dasharray="1 1"/>
<line x1="285.0" y1="368.4" x2="318.0" y2="368.4" stroke="#555" stroke-width="0.5" stroke-dasharray="1 1"/>
<path d="M331.00 342.30 L331.40 343.07 L331.30 343.83 L330.71 344.47 L330.09 345.02 L329.82 345.67 L329.87 346.50 L329.84 347.37 L329.37 347.98 L328.54 348.24 L327.72 348.40 L327.17 348.83 L326.80 349.57 L326.33 350.31 L325.62 350.60 L324.77 350.41 L323.98 350.15 L323.29 350.24 L322.60 350.70 L321.83 351.10 L321.07 351.00 L320.43 350.41 L319.88 349.79 L319.23 349.52 L318.40 349.57 L317.53 349.54 L316.92 349.07 L316.66 348.24 L316.50 347.42 L316.07 346.87 L315.33 346.50 L314.59 346.03 L314.30 345.32 L314.49 344.47 L314.75 343.68 L314.66 342.99 L314.20 342.30 L313.80 341.53 L313.90 340.77 L314.49 340.13 L315.11 339.58 L315.38 338.93 L315.33 338.10 L315.36 337.23 L315.83 336.62 L316.66 336.36 L317.48 336.20 L318.03 335.77 L318.40 335.03 L318.87 334.29 L319.58 334.00 L320.43 334.19 L321.22 334.45 L321.91 334.36 L322.60 333.90 L323.37 333.50 L324.13 333.60 L324.77 334.19 L325.32 334.81 L325.97 335.08 L326.80 335.03 L327.67 335.06 L328.28 335.53 L328.54 336.36 L328.70 337.18 L329.13 337.73 L329.87 338.10 L330.61 338.57 L330.90 339.28 L330.71 340.13 L330.45 340.92 L330.54 341.61 L331.00 342.30 Z" fill="#92d27e"/>
<circle cx="322.6" cy="342.3" r="5.6" fill="#d6e6ee"/><circle cx="322.6" cy="342.3" r="5" fill="#ee8e96"/><circle cx="323.6" cy="342.8" r="2.4" fill="#dc6b74"/>
<circle cx="312.2" cy="356" r="5.5" fill="#8fd07a"/><circle cx="312.5" cy="356.8" r="2.5" fill="#5aa852"/>
<circle cx="309.2" cy="351" r="3.6" fill="#eb8b92"/><circle cx="309.6" cy="351.2" r="1.8" fill="#d96a72"/>
<rect x="368.8" y="308.1" width="69.19999999999999" height="68.19999999999999" fill="none" stroke="#555" stroke-width="0.8"/>
<line x1="368.8" y1="308.1" x2="368.8" y2="376.3" stroke="#111" stroke-width="1.3" />
<path d="M364.5 308.3 L368.8 300.2 L373.1 308.3 Z" fill="#000"/>
<line x1="368.8" y1="376.3" x2="436.0" y2="376.3" stroke="#ff0000" stroke-width="1.3" />
<path d="M434 372.6 L440.7 376.3 L434 380.0 Z" fill="#ff0000"/>
<line x1="367.3" y1="311.1" x2="368.8" y2="311.1" stroke="#333" stroke-width="0.5" />
<line x1="367.3" y1="323.1" x2="368.8" y2="323.1" stroke="#333" stroke-width="0.5" />
<line x1="367.3" y1="336.1" x2="368.8" y2="336.1" stroke="#333" stroke-width="0.5" />
<line x1="367.3" y1="348.1" x2="368.8" y2="348.1" stroke="#333" stroke-width="0.5" />
<line x1="367.3" y1="368.1" x2="368.8" y2="368.1" stroke="#333" stroke-width="0.5" />
<line x1="375.0" y1="376.3" x2="375.0" y2="377.8" stroke="#333" stroke-width="0.5" />
<line x1="397.0" y1="376.3" x2="397.0" y2="377.8" stroke="#333" stroke-width="0.5" />
<line x1="410.0" y1="376.3" x2="410.0" y2="377.8" stroke="#333" stroke-width="0.5" />
<line x1="424.0" y1="376.3" x2="424.0" y2="377.8" stroke="#333" stroke-width="0.5" />
<g>
<ellipse cx="383.5" cy="336.9" rx="14.5" ry="8.7" fill="#e6e6e6" stroke="#b0b0b0" stroke-width="0.6"/>
<ellipse cx="383.5" cy="336.9" rx="12.6" ry="7.4" fill="none" stroke="#a8a8a8" stroke-width="0.55"/>
<ellipse cx="383.1" cy="337.1" rx="11" ry="6.4" fill="none" stroke="#9a9a9a" stroke-width="0.55"/>
<ellipse cx="382.7" cy="337.4" rx="9.4" ry="5.4" fill="none" stroke="#8c8c8c" stroke-width="0.55"/>
<ellipse cx="382.3" cy="337.6" rx="7.8" ry="4.4" fill="none" stroke="#888" stroke-width="0.55"/>
<ellipse cx="381.9" cy="337.9" rx="6.2" ry="3.4" fill="none" stroke="#8c8c8c" stroke-width="0.55"/>
<ellipse cx="381.5" cy="338.1" rx="4.6" ry="2.4" fill="none" stroke="#a0a0a0" stroke-width="0.55"/>
</g>
<rect x="400.5" y="324.5" width="21.5" height="24.4" fill="none" stroke="#666" stroke-width="0.8"/>
<ellipse cx="410" cy="336.2" rx="4" ry="5.7" fill="#eeeeee" stroke="#bbb" stroke-width="0.5"/>
<ellipse cx="410" cy="336.2" rx="3" ry="4.3" fill="none" stroke="#a0a0a0" stroke-width="0.55"/>
<ellipse cx="410" cy="336.2" rx="2" ry="2.9" fill="none" stroke="#a0a0a0" stroke-width="0.55"/>
<ellipse cx="410" cy="336.2" rx="1.1" ry="1.6" fill="none" stroke="#a0a0a0" stroke-width="0.55"/>
<text x="379.5" y="360.2" font-size="9.6" fill="#111" stroke="#111" stroke-width="0.22" text-anchor="start" textLength="51.5" lengthAdjust="spacingAndGlyphs" >Phagocytosis</text>
<text x="396.1" y="371.5" font-size="9.6" fill="#111" stroke="#111" stroke-width="0.22" text-anchor="start" textLength="16.8" lengthAdjust="spacingAndGlyphs" >9.49</text>
<text x="370.6" y="391.7" font-size="10.6" fill="#ff1a1a" stroke="#ff1a1a" stroke-width="0.22" text-anchor="start" textLength="98.0" lengthAdjust="spacingAndGlyphs" >NucLight Red-sgGAL4</text>
<text transform="translate(359.0,346.0) rotate(-90)" x="0" y="0" font-size="10.2" fill="#22b060" stroke="#22b060" stroke-width="0.22" text-anchor="middle" textLength="96.0" lengthAdjust="spacingAndGlyphs">GFP-α-EphA2-CAR-M</text>
<rect x="368.8" y="421.6" width="69.19999999999999" height="67.89999999999998" fill="none" stroke="#555" stroke-width="0.8"/>
<line x1="368.8" y1="421.6" x2="368.8" y2="489.5" stroke="#111" stroke-width="1.3" />
<path d="M364.5 421.8 L368.8 407.4 L373.1 421.8 Z" fill="#000"/>
<line x1="368.8" y1="489.5" x2="436.0" y2="489.5" stroke="#ff0000" stroke-width="1.3" />
<path d="M434 485.8 L440.7 489.5 L434 493.2 Z" fill="#ff0000"/>
<line x1="367.3" y1="424.6" x2="368.8" y2="424.6" stroke="#333" stroke-width="0.5" />
<line x1="367.3" y1="436.6" x2="368.8" y2="436.6" stroke="#333" stroke-width="0.5" />
<line x1="367.3" y1="449.6" x2="368.8" y2="449.6" stroke="#333" stroke-width="0.5" />
<line x1="367.3" y1="461.6" x2="368.8" y2="461.6" stroke="#333" stroke-width="0.5" />
<line x1="367.3" y1="481.6" x2="368.8" y2="481.6" stroke="#333" stroke-width="0.5" />
<line x1="375.0" y1="489.5" x2="375.0" y2="491.0" stroke="#333" stroke-width="0.5" />
<line x1="397.0" y1="489.5" x2="397.0" y2="491.0" stroke="#333" stroke-width="0.5" />
<line x1="410.0" y1="489.5" x2="410.0" y2="491.0" stroke="#333" stroke-width="0.5" />
<line x1="424.0" y1="489.5" x2="424.0" y2="491.0" stroke="#333" stroke-width="0.5" />
<g>
<ellipse cx="383.5" cy="450.8" rx="14.5" ry="8.7" fill="#e6e6e6" stroke="#b0b0b0" stroke-width="0.6"/>
<ellipse cx="383.5" cy="450.8" rx="12.6" ry="7.4" fill="none" stroke="#a8a8a8" stroke-width="0.55"/>
<ellipse cx="383.1" cy="451.1" rx="11" ry="6.4" fill="none" stroke="#9a9a9a" stroke-width="0.55"/>
<ellipse cx="382.7" cy="451.3" rx="9.4" ry="5.4" fill="none" stroke="#8c8c8c" stroke-width="0.55"/>
<ellipse cx="382.3" cy="451.6" rx="7.8" ry="4.4" fill="none" stroke="#888" stroke-width="0.55"/>
<ellipse cx="381.9" cy="451.8" rx="6.2" ry="3.4" fill="none" stroke="#8c8c8c" stroke-width="0.55"/>
<ellipse cx="381.5" cy="452.1" rx="4.6" ry="2.4" fill="none" stroke="#a0a0a0" stroke-width="0.55"/>
</g>
<rect x="400.5" y="437.8" width="21.5" height="24.0" fill="none" stroke="#666" stroke-width="0.8"/>
<ellipse cx="410" cy="449.3" rx="4" ry="5.7" fill="#eeeeee" stroke="#bbb" stroke-width="0.5"/>
<ellipse cx="410" cy="449.3" rx="3" ry="4.3" fill="none" stroke="#a0a0a0" stroke-width="0.55"/>
<ellipse cx="410" cy="449.3" rx="2" ry="2.9" fill="none" stroke="#a0a0a0" stroke-width="0.55"/>
<ellipse cx="410" cy="449.3" rx="1.1" ry="1.6" fill="none" stroke="#a0a0a0" stroke-width="0.55"/>
<text x="379.5" y="474.0" font-size="9.6" fill="#111" stroke="#111" stroke-width="0.22" text-anchor="start" textLength="51.5" lengthAdjust="spacingAndGlyphs" >Phagocytosis</text>
<text x="398.8" y="485.8" font-size="9.6" fill="#111" stroke="#111" stroke-width="0.22" text-anchor="start" textLength="17.2" lengthAdjust="spacingAndGlyphs" >12.2</text>
<text x="370.6" y="505.9" font-size="10.6" fill="#ff1a1a" stroke="#ff1a1a" stroke-width="0.22" text-anchor="start" textLength="106.0" lengthAdjust="spacingAndGlyphs" >NucLight Red-sgATG9A</text>
<text transform="translate(359.0,459.5) rotate(-90)" x="0" y="0" font-size="10.2" fill="#22b060" stroke="#22b060" stroke-width="0.22" text-anchor="middle" textLength="96.0" lengthAdjust="spacingAndGlyphs">GFP-α-EphA2-CAR-M</text>
<path d="M531.49 310.20 L531.64 311.14 L531.57 312.07 L531.27 312.96 L530.79 313.76 L530.24 314.47 L529.70 315.14 L529.23 315.82 L528.83 316.57 L528.47 317.38 L528.05 318.21 L527.52 318.97 L526.86 319.55 L526.08 319.91 L525.23 320.05 L524.37 320.04 L523.55 319.97 L522.77 319.97 L522.00 320.06 L521.21 320.24 L520.38 320.42 L519.52 320.48 L518.68 320.34 L517.91 319.95 L517.25 319.35 L516.70 318.61 L516.22 317.85 L515.75 317.14 L515.23 316.52 L514.62 315.94 L513.98 315.34 L513.37 314.67 L512.90 313.88 L512.62 312.99 L512.58 312.05 L512.72 311.10 L512.95 310.20 L513.17 309.34 L513.31 308.50 L513.36 307.63 L513.37 306.71 L513.43 305.76 L513.64 304.84 L514.04 304.01 L514.63 303.33 L515.36 302.82 L516.13 302.43 L516.89 302.09 L517.59 301.71 L518.24 301.24 L518.89 300.69 L519.57 300.14 L520.33 299.69 L521.15 299.44 L522.00 299.46 L522.83 299.72 L523.60 300.13 L524.32 300.58 L525.02 300.98 L525.74 301.28 L526.52 301.51 L527.33 301.74 L528.14 302.07 L528.86 302.58 L529.43 303.27 L529.81 304.12 L530.04 305.04 L530.18 305.96 L530.32 306.84 L530.53 307.66 L530.84 308.47 L531.19 309.31 L531.49 310.20 Z" fill="#e3e3e3" stroke="#d2d2d2" stroke-width="0.5"/>
<path d="M557.40 311.20 L557.87 312.22 L557.58 313.21 L556.75 314.03 L556.22 314.85 L556.26 315.89 L556.31 317.04 L555.72 317.87 L554.64 318.28 L553.73 318.73 L553.28 319.64 L552.87 320.72 L552.04 321.31 L550.89 321.26 L549.85 321.22 L549.03 321.75 L548.21 322.58 L547.22 322.87 L546.20 322.40 L545.27 321.84 L544.32 321.88 L543.23 322.28 L542.18 322.23 L541.43 321.44 L540.84 320.49 L540.02 320.03 L538.88 319.92 L537.89 319.51 L537.48 318.52 L537.37 317.38 L536.91 316.56 L535.96 315.97 L535.17 315.22 L535.12 314.17 L535.52 313.08 L535.56 312.13 L535.00 311.20 L534.53 310.18 L534.82 309.19 L535.65 308.37 L536.18 307.55 L536.14 306.51 L536.09 305.36 L536.68 304.53 L537.76 304.12 L538.67 303.67 L539.12 302.76 L539.53 301.68 L540.36 301.09 L541.51 301.14 L542.55 301.18 L543.37 300.65 L544.19 299.82 L545.18 299.53 L546.20 300.00 L547.13 300.56 L548.08 300.52 L549.17 300.12 L550.22 300.17 L550.97 300.96 L551.56 301.91 L552.38 302.37 L553.52 302.48 L554.51 302.89 L554.92 303.88 L555.03 305.02 L555.49 305.84 L556.44 306.43 L557.23 307.18 L557.28 308.23 L556.88 309.32 L556.84 310.27 L557.40 311.20 Z" fill="#86cf6a" stroke="#78c25d" stroke-width="0.5"/>
<path d="M542.5 306.3 Q537 305.5 532.5 309.2 Q537 313.2 542.5 312.8 Q540 309.5 542.5 306.3 Z" fill="#ffffff" stroke="#d8d8d8" stroke-width="0.5"/>
<path d="M533.3 309.2 Q528 303.6 524 305 Q520.6 306.8 521.4 310.2 Q522.8 314.2 527.5 313.4 Z" fill="#f04a52"/>
<circle cx="548.3" cy="311.7" r="4.9" fill="#4aa04a"/>
<circle cx="544" cy="302.5" r="0.5" fill="#d8f0d0"/>
<circle cx="551.5" cy="318" r="0.5" fill="#d8f0d0"/>
<circle cx="540" cy="317" r="0.5" fill="#d8f0d0"/>
<circle cx="553" cy="305" r="0.5" fill="#d8f0d0"/>
<rect x="512.3" y="312.3" width="11.3" height="10.7" fill="none" stroke="#777" stroke-width="0.6" stroke-dasharray="1 0.8"/>
<line x1="512.3" y1="323.0" x2="499.8" y2="333.4" stroke="#888" stroke-width="0.5" />
<line x1="523.6" y1="323.0" x2="574.0" y2="333.4" stroke="#888" stroke-width="0.5" />
<rect x="499.8" y="333.4" width="74.2" height="43" fill="none" stroke="#777" stroke-width="0.6" stroke-dasharray="1 0.8"/>
<path d="M500 350.4 L522 350.4 Q530 350 533 346 M543 346 Q546 350 554 350.4 L574 350.4" fill="none" stroke="#9fb3d3" stroke-width="1.6" stroke-dasharray="0.8 0.6"/>
<path d="M500 355.2 L522 355.2 Q530 355.6 533 359 M543 359 Q546 355.6 554 355.2 L574 355.2" fill="none" stroke="#9fb3d3" stroke-width="1.6" stroke-dasharray="0.8 0.6"/>
<path d="M525.5 376.3 A11.8 12.4 0 0 1 549.1 376.3 Z" fill="#fdeef0" stroke="#f3c4ca" stroke-width="0.4"/>
<path d="M533.5 376.3 A3.8 4.0 0 0 1 541.1 376.3" fill="none" stroke="#f6c8cd" stroke-width="0.5"/>
<path d="M530.6 376.3 A6.6 7.0 0 0 1 543.9 376.3" fill="none" stroke="#f6c8cd" stroke-width="0.5"/>
<path d="M527.8 376.3 A9.5 10.0 0 0 1 546.8 376.3" fill="none" stroke="#f6c8cd" stroke-width="0.5"/>
<circle cx="534.3" cy="373.3" r="4.2" fill="#ff3a40"/>
<line x1="535.5" y1="341.5" x2="538.3" y2="345.8" stroke="#222" stroke-width="0.6" />
<text x="510.7" y="331.6" font-size="9.6" fill="#111" stroke="#111" stroke-width="0.22" text-anchor="start" textLength="7.2" lengthAdjust="spacingAndGlyphs" >PI</text>
<circle cx="522" cy="328.4" r="1.4" fill="#f04b55"/>
<text x="524.3" y="342.0" font-size="10" fill="#111" stroke="#111" stroke-width="0.22" text-anchor="start" textLength="47.6" lengthAdjust="spacingAndGlyphs" >PM damage</text>
<text x="503.7" y="365.1" font-size="9.6" fill="#111" stroke="#111" stroke-width="0.22" text-anchor="start" textLength="23.7" lengthAdjust="spacingAndGlyphs" >Nuclei</text>
<rect x="601.4" y="306.6" width="69.89999999999998" height="69.5" fill="none" stroke="#777" stroke-width="0.7"/>
<line x1="601.4" y1="306.6" x2="601.4" y2="376.1" stroke="#444" stroke-width="0.8" />
<path d="M601.4 376.1 L601.6 370.7 L602.5 370.1 L603.5 369.3 L604.5 368.9 L605.4 368.4 L606.4 368.2 L607.3 366.7 L608.2 365.6 L609.2 364.6 L610.4 363.2 L611.5 360.9 L612.7 357.8 L613.9 354.4 L614.8 348.7 L615.8 343.1 L616.7 337.7 L617.6 331.3 L618.6 325.7 L619.5 319.5 L620.5 317.1 L621.4 313.8 L622.3 312.5 L623.3 311.4 L624.2 314.0 L625.2 314.9 L626.1 320.0 L627.1 324.6 L628.0 330.1 L629.0 335.8 L629.9 341.5 L630.8 346.8 L631.8 352.8 L632.8 357.1 L633.8 362.2 L634.7 364.7 L635.6 367.8 L636.5 368.4 L637.5 369.4 L638.4 370.8 L639.4 371.8 L640.3 373.3 L641.1 373.4 L641.9 373.8 L642.7 373.8 L643.5 374.0 L644.3 374.3 L645.1 373.9 L646.0 373.9 L646.8 374.9 L647.6 374.0 L648.4 374.8 L649.2 374.9 L650.0 374.3 L650.8 375.4 L651.6 375.6 L652.4 375.3 L653.2 375.4 L654.0 375.5 L654.8 374.8 L655.6 375.2 L656.5 375.2 L657.3 375.6 L658.1 375.6 L658.9 375.7 L659.7 375.4 L660.5 375.8 L661.3 375.6 L662.1 375.6 L662.9 375.1 L663.7 374.8 L664.5 375.0 L665.3 375.3 L666.1 375.0 L667.0 375.9 L667.8 375.6 L668.6 375.7 L669.4 375.7 L670.2 375.8 L671.0 375.6 L671.3 376.1 Z" fill="#8c8c8c" stroke="#111" stroke-width="0.9" stroke-linejoin="round"/>
<line x1="601.4" y1="376.1" x2="672.3" y2="376.1" stroke="#ff0000" stroke-width="1.4" />
<path d="M669.8 372.3 L677.5 376.1 L669.8 379.90000000000003 Z" fill="#ff0000"/>
<line x1="599.9" y1="312.6" x2="601.4" y2="312.6" stroke="#555" stroke-width="0.5" />
<line x1="599.9" y1="324.6" x2="601.4" y2="324.6" stroke="#555" stroke-width="0.5" />
<line x1="599.9" y1="336.6" x2="601.4" y2="336.6" stroke="#555" stroke-width="0.5" />
<line x1="599.9" y1="348.6" x2="601.4" y2="348.6" stroke="#555" stroke-width="0.5" />
<line x1="599.9" y1="360.6" x2="601.4" y2="360.6" stroke="#555" stroke-width="0.5" />
<line x1="641.2" y1="347.7" x2="671.3" y2="347.7" stroke="#222" stroke-width="1.0" />
<line x1="641.2" y1="345.9" x2="641.2" y2="349.5" stroke="#222" stroke-width="0.9" />
<text x="650.1" y="333.6" font-size="10.4" fill="#111" stroke="#111" stroke-width="0.22" text-anchor="start" textLength="12.0" lengthAdjust="spacingAndGlyphs" >PI+</text>
<text x="647.6" y="345.9" font-size="10.4" fill="#111" stroke="#111" stroke-width="0.22" text-anchor="start" textLength="17.4" lengthAdjust="spacingAndGlyphs" >2.26</text>
<text x="604.9" y="391.7" font-size="10.6" fill="#ff1a1a" stroke="#ff1a1a" stroke-width="0.22" text-anchor="start" textLength="77.8" lengthAdjust="spacingAndGlyphs" >PI+ (PM damage)</text>
<text transform="translate(591.6,345.5) rotate(-90)" x="0" y="0" font-size="10.5" fill="#111" stroke="#111" stroke-width="0.22" text-anchor="middle" textLength="28.0" lengthAdjust="spacingAndGlyphs">Count</text>
<rect x="601.4" y="420.3" width="69.89999999999998" height="68.5" fill="none" stroke="#777" stroke-width="0.7"/>
<line x1="601.4" y1="420.3" x2="601.4" y2="488.8" stroke="#444" stroke-width="0.8" />
<path d="M601.4 488.8 L601.6 485.8 L602.5 485.0 L603.5 485.8 L604.4 485.5 L605.4 485.0 L606.3 484.8 L607.2 484.3 L608.2 482.9 L609.1 483.0 L610.1 481.7 L611.0 479.8 L612.0 478.4 L613.0 477.3 L613.9 475.0 L614.8 472.8 L615.8 470.3 L616.7 466.8 L617.6 463.9 L618.5 458.8 L619.5 453.9 L620.5 448.8 L621.4 443.4 L622.3 439.1 L623.3 434.0 L624.2 429.7 L625.2 427.0 L626.1 424.7 L626.9 423.9 L627.8 423.9 L628.6 422.9 L629.9 431.5 L630.8 436.1 L631.8 441.0 L632.7 445.4 L633.7 450.4 L634.6 455.0 L635.6 460.3 L636.5 464.0 L637.5 467.8 L638.4 471.2 L639.3 475.9 L640.2 476.6 L641.2 479.0 L642.1 480.5 L643.1 480.9 L644.0 483.0 L644.8 483.9 L645.6 484.5 L646.4 484.4 L647.3 484.6 L648.1 485.0 L648.9 486.4 L649.7 486.0 L650.6 486.3 L651.6 485.7 L652.5 486.0 L653.5 486.4 L654.4 485.4 L655.6 478.4 L656.3 464.1 L657.1 476.5 L657.8 486.0 L658.6 484.6 L659.5 484.5 L660.7 479.2 L661.4 482.4 L662.0 487.0 L662.8 487.6 L663.6 487.6 L664.5 487.5 L665.3 487.3 L666.1 487.6 L666.9 487.6 L667.7 488.3 L668.5 487.3 L669.4 488.2 L670.2 488.4 L671.0 488.0 L671.3 488.8 Z" fill="#8c8c8c" stroke="#111" stroke-width="0.9" stroke-linejoin="round"/>
<line x1="601.4" y1="488.8" x2="672.3" y2="488.8" stroke="#ff0000" stroke-width="1.4" />
<path d="M669.8 485.0 L677.5 488.8 L669.8 492.6 Z" fill="#ff0000"/>
<line x1="599.9" y1="426.3" x2="601.4" y2="426.3" stroke="#555" stroke-width="0.5" />
<line x1="599.9" y1="438.3" x2="601.4" y2="438.3" stroke="#555" stroke-width="0.5" />
<line x1="599.9" y1="450.3" x2="601.4" y2="450.3" stroke="#555" stroke-width="0.5" />
<line x1="599.9" y1="462.3" x2="601.4" y2="462.3" stroke="#555" stroke-width="0.5" />
<line x1="599.9" y1="474.3" x2="601.4" y2="474.3" stroke="#555" stroke-width="0.5" />
<line x1="641.2" y1="460.4" x2="671.3" y2="460.4" stroke="#222" stroke-width="1.0" />
<line x1="641.2" y1="458.6" x2="641.2" y2="462.2" stroke="#222" stroke-width="0.9" />
<text x="646.9" y="444.8" font-size="10.4" fill="#111" stroke="#111" stroke-width="0.22" text-anchor="start" textLength="12.3" lengthAdjust="spacingAndGlyphs" >PI+</text>
<text x="644.4" y="456.9" font-size="10.4" fill="#111" stroke="#111" stroke-width="0.22" text-anchor="start" textLength="18.0" lengthAdjust="spacingAndGlyphs" >10.8</text>
<text x="606.7" y="507.5" font-size="10.6" fill="#ff1a1a" stroke="#ff1a1a" stroke-width="0.22" text-anchor="start" textLength="77.0" lengthAdjust="spacingAndGlyphs" >PI+ (PM damage)</text>
<text transform="translate(591.6,461.1) rotate(-90)" x="0" y="0" font-size="10.5" fill="#111" stroke="#111" stroke-width="0.22" text-anchor="middle" textLength="28.0" lengthAdjust="spacingAndGlyphs">Count</text>
</svg></body></html>
